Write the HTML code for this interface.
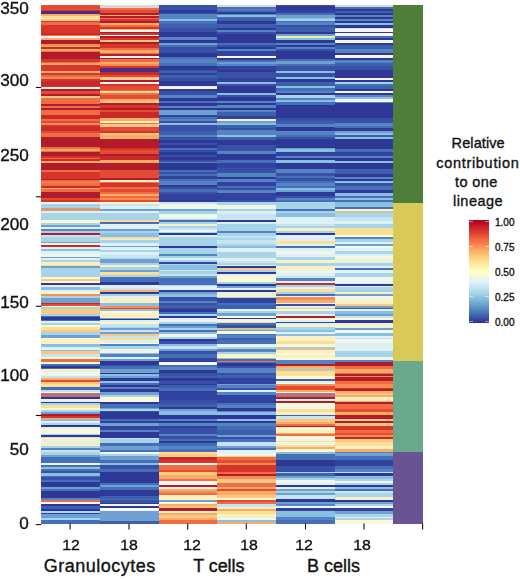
<!DOCTYPE html>
<html><head><meta charset="utf-8"><style>
html,body{margin:0;padding:0;background:#fff;}
body{width:520px;height:579px;position:relative;overflow:hidden;font-family:"Liberation Sans",sans-serif;color:#111;}
.t{position:absolute;white-space:nowrap;line-height:1;-webkit-text-stroke:0.35px #111;}
.yl{left:0;width:28.9px;text-align:right;font-size:16px;line-height:17px;transform:scaleX(1.07);transform-origin:100% 50%;}
.xl{top:537px;width:40px;text-align:center;font-size:15px;transform:scaleX(1.06);}
.gl{top:557px;width:140px;text-align:center;font-size:18px;line-height:18px;}
.lt{width:100px;text-align:center;font-size:14.5px;line-height:16px;}
.ll{left:495px;font-size:10px;line-height:12px;}
</style></head><body>
<svg width="520" height="579" viewBox="0 0 520 579" style="position:absolute;left:0;top:0" shape-rendering="crispEdges">
<defs><linearGradient id="lg" x1="0" y1="1" x2="0" y2="0">
<stop offset="0" stop-color="#2c2d8f"/>
<stop offset="0.1" stop-color="#4575b4"/>
<stop offset="0.2" stop-color="#74add1"/>
<stop offset="0.3" stop-color="#abd9e9"/>
<stop offset="0.4" stop-color="#e0f3f8"/>
<stop offset="0.5" stop-color="#ffffbf"/>
<stop offset="0.6" stop-color="#fee090"/>
<stop offset="0.7" stop-color="#fdae61"/>
<stop offset="0.8" stop-color="#f46d43"/>
<stop offset="0.9" stop-color="#d73027"/>
<stop offset="1" stop-color="#a50026"/>
</linearGradient><filter id="bl" x="-1%" y="-1%" width="102%" height="102%"><feGaussianBlur stdDeviation="0.3 0.45"/></filter></defs>
<g filter="url(#bl)"><rect x="41.20" y="5.40" width="58.70" height="0.80" fill="#e44c32"/><rect x="41.20" y="6.20" width="58.70" height="3.40" fill="#e44c32"/><rect x="41.20" y="9.60" width="58.70" height="1.70" fill="#d8352a"/><rect x="41.20" y="11.30" width="58.70" height="2.70" fill="#4b2d80"/><rect x="41.20" y="14.00" width="58.70" height="1.60" fill="#f9ac66"/><rect x="41.20" y="15.60" width="58.70" height="2.10" fill="#fcdf95"/><rect x="41.20" y="17.70" width="58.70" height="1.70" fill="#fbf0c2"/><rect x="41.20" y="19.40" width="58.70" height="1.70" fill="#fbc783"/><rect x="41.20" y="21.10" width="58.70" height="1.20" fill="#d8352a"/><rect x="41.20" y="22.30" width="58.70" height="2.30" fill="#f06c43"/><rect x="41.20" y="24.60" width="58.70" height="1.70" fill="#d8352a"/><rect x="41.20" y="26.30" width="58.70" height="6.40" fill="#d8352a"/><rect x="41.20" y="32.70" width="58.70" height="2.10" fill="#c82a2a"/><rect x="41.20" y="34.80" width="58.70" height="1.30" fill="#f06c43"/><rect x="41.20" y="36.10" width="58.70" height="2.30" fill="#f9f6f2"/><rect x="41.20" y="38.40" width="58.70" height="1.80" fill="#f9ac66"/><rect x="41.20" y="40.20" width="58.70" height="4.00" fill="#b21d2b"/><rect x="41.20" y="44.20" width="58.70" height="1.70" fill="#f68d52"/><rect x="41.20" y="45.90" width="58.70" height="1.50" fill="#f9ac66"/><rect x="41.20" y="47.40" width="58.70" height="1.40" fill="#c82a2a"/><rect x="41.20" y="48.80" width="58.70" height="1.80" fill="#f9ac66"/><rect x="41.20" y="50.60" width="58.70" height="1.70" fill="#f06c43"/><rect x="41.20" y="52.30" width="58.70" height="6.90" fill="#b21d2b"/><rect x="41.20" y="59.20" width="58.70" height="2.30" fill="#d8352a"/><rect x="41.20" y="61.50" width="58.70" height="1.70" fill="#f06c43"/><rect x="41.20" y="63.20" width="58.70" height="2.00" fill="#f9ac66"/><rect x="41.20" y="65.20" width="58.70" height="2.70" fill="#d8352a"/><rect x="41.20" y="67.90" width="58.70" height="2.10" fill="#d8352a"/><rect x="41.20" y="70.00" width="58.70" height="1.20" fill="#d8352a"/><rect x="41.20" y="71.20" width="58.70" height="2.00" fill="#f9ac66"/><rect x="41.20" y="73.20" width="58.70" height="2.00" fill="#d8352a"/><rect x="41.20" y="75.20" width="58.70" height="1.70" fill="#f06c43"/><rect x="41.20" y="76.90" width="58.70" height="2.30" fill="#f68d52"/><rect x="41.20" y="79.20" width="58.70" height="1.80" fill="#d8352a"/><rect x="41.20" y="81.00" width="58.70" height="4.60" fill="#c82a2a"/><rect x="41.20" y="85.60" width="58.70" height="1.10" fill="#d8352a"/><rect x="41.20" y="86.70" width="58.70" height="2.00" fill="#f9f6f2"/><rect x="41.20" y="88.70" width="58.70" height="1.80" fill="#b21d2b"/><rect x="41.20" y="90.50" width="58.70" height="3.70" fill="#e44c32"/><rect x="41.20" y="94.20" width="58.70" height="1.30" fill="#b21d2b"/><rect x="41.20" y="95.50" width="58.70" height="2.00" fill="#fbc783"/><rect x="41.20" y="97.50" width="58.70" height="0.90" fill="#f06c43"/><rect x="41.20" y="98.40" width="58.70" height="5.40" fill="#f06c43"/><rect x="41.20" y="103.80" width="58.70" height="2.00" fill="#b21d2b"/><rect x="41.20" y="105.80" width="58.70" height="2.10" fill="#f06c43"/><rect x="41.20" y="107.90" width="58.70" height="2.10" fill="#b21d2b"/><rect x="41.20" y="110.00" width="58.70" height="5.00" fill="#f06c43"/><rect x="41.20" y="115.00" width="58.70" height="3.70" fill="#c82a2a"/><rect x="41.20" y="118.70" width="58.70" height="2.10" fill="#f06c43"/><rect x="41.20" y="120.80" width="58.70" height="2.00" fill="#e44c32"/><rect x="41.20" y="122.80" width="58.70" height="2.50" fill="#f68d52"/><rect x="41.20" y="125.30" width="58.70" height="2.10" fill="#d8352a"/><rect x="41.20" y="127.40" width="58.70" height="3.70" fill="#c82a2a"/><rect x="41.20" y="131.10" width="58.70" height="2.10" fill="#e44c32"/><rect x="41.20" y="133.20" width="58.70" height="1.80" fill="#f06c43"/><rect x="41.20" y="135.00" width="58.70" height="2.30" fill="#f06c43"/><rect x="41.20" y="137.30" width="58.70" height="9.80" fill="#b21d2b"/><rect x="41.20" y="147.10" width="58.70" height="1.50" fill="#f06c43"/><rect x="41.20" y="148.60" width="58.70" height="2.00" fill="#f9ac66"/><rect x="41.20" y="150.60" width="58.70" height="1.70" fill="#f06c43"/><rect x="41.20" y="152.30" width="58.70" height="4.00" fill="#b21d2b"/><rect x="41.20" y="156.30" width="58.70" height="1.20" fill="#d8352a"/><rect x="41.20" y="157.50" width="58.70" height="1.70" fill="#f06c43"/><rect x="41.20" y="159.20" width="58.70" height="1.80" fill="#c82a2a"/><rect x="41.20" y="161.00" width="58.70" height="1.90" fill="#f9ac66"/><rect x="41.20" y="162.90" width="58.70" height="6.70" fill="#b21d2b"/><rect x="41.20" y="169.60" width="58.70" height="2.30" fill="#f06c43"/><rect x="41.20" y="171.90" width="58.70" height="6.90" fill="#d8352a"/><rect x="41.20" y="178.80" width="58.70" height="1.40" fill="#b21d2b"/><rect x="41.20" y="180.20" width="58.70" height="1.50" fill="#f06c43"/><rect x="41.20" y="181.70" width="58.70" height="1.70" fill="#f68d52"/><rect x="41.20" y="183.40" width="58.70" height="2.30" fill="#f06c43"/><rect x="41.20" y="185.70" width="58.70" height="1.80" fill="#c82a2a"/><rect x="41.20" y="187.50" width="58.70" height="1.90" fill="#f9ac66"/><rect x="41.20" y="189.40" width="58.70" height="2.10" fill="#f06c43"/><rect x="41.20" y="191.50" width="58.70" height="6.40" fill="#b21d2b"/><rect x="41.20" y="197.90" width="58.70" height="2.10" fill="#e44c32"/><rect x="41.20" y="200.00" width="58.70" height="2.10" fill="#d8352a"/><rect x="41.20" y="202.10" width="58.70" height="1.90" fill="#f9f6f2"/><rect x="41.20" y="204.00" width="58.70" height="4.10" fill="#a8d4ea"/><rect x="41.20" y="208.10" width="58.70" height="2.90" fill="#d49a78"/><rect x="41.20" y="211.00" width="58.70" height="1.70" fill="#dff0f6"/><rect x="41.20" y="212.70" width="58.70" height="6.90" fill="#a8d4ea"/><rect x="41.20" y="219.60" width="58.70" height="2.90" fill="#fbf8d2"/><rect x="41.20" y="222.50" width="58.70" height="2.30" fill="#a8d4ea"/><rect x="41.20" y="224.80" width="58.70" height="1.70" fill="#6f9fd2"/><rect x="41.20" y="226.50" width="58.70" height="2.30" fill="#dff0f6"/><rect x="41.20" y="228.80" width="58.70" height="2.30" fill="#5584c4"/><rect x="41.20" y="231.10" width="58.70" height="1.80" fill="#a8d4ea"/><rect x="41.20" y="232.90" width="58.70" height="2.30" fill="#b21d2b"/><rect x="41.20" y="235.20" width="58.70" height="1.80" fill="#c6e4f1"/><rect x="41.20" y="237.00" width="58.70" height="4.50" fill="#a8d4ea"/><rect x="41.20" y="241.50" width="58.70" height="1.80" fill="#6f9fd2"/><rect x="41.20" y="243.30" width="58.70" height="1.70" fill="#fbf8d2"/><rect x="41.20" y="245.00" width="58.70" height="2.30" fill="#c82a2a"/><rect x="41.20" y="247.30" width="58.70" height="1.70" fill="#dff0f6"/><rect x="41.20" y="249.00" width="58.70" height="2.30" fill="#8bbfe2"/><rect x="41.20" y="251.30" width="58.70" height="2.30" fill="#dff0f6"/><rect x="41.20" y="253.60" width="58.70" height="2.90" fill="#eef7e8"/><rect x="41.20" y="256.50" width="58.70" height="1.70" fill="#6f9fd2"/><rect x="41.20" y="258.20" width="58.70" height="1.80" fill="#dff0f6"/><rect x="41.20" y="260.00" width="58.70" height="1.70" fill="#a8d4ea"/><rect x="41.20" y="261.70" width="58.70" height="3.30" fill="#fbf0c2"/><rect x="41.20" y="265.00" width="58.70" height="1.20" fill="#fcdf95"/><rect x="41.20" y="266.20" width="58.70" height="1.70" fill="#6f9fd2"/><rect x="41.20" y="267.90" width="58.70" height="8.60" fill="#a8d4ea"/><rect x="41.20" y="276.50" width="58.70" height="2.10" fill="#fbf8d2"/><rect x="41.20" y="278.60" width="58.70" height="2.50" fill="#fbc783"/><rect x="41.20" y="281.10" width="58.70" height="1.80" fill="#fbf8d2"/><rect x="41.20" y="282.90" width="58.70" height="2.30" fill="#2e3896"/><rect x="41.20" y="285.20" width="58.70" height="1.70" fill="#dff0f6"/><rect x="41.20" y="286.90" width="58.70" height="2.90" fill="#8bbfe2"/><rect x="41.20" y="289.80" width="58.70" height="1.70" fill="#dff0f6"/><rect x="41.20" y="291.50" width="58.70" height="2.30" fill="#fbf8d2"/><rect x="41.20" y="293.80" width="58.70" height="2.10" fill="#f68d52"/><rect x="41.20" y="295.90" width="58.70" height="2.50" fill="#a8d4ea"/><rect x="41.20" y="298.40" width="58.70" height="4.10" fill="#6f9fd2"/><rect x="41.20" y="302.50" width="58.70" height="1.70" fill="#c82a2a"/><rect x="41.20" y="304.20" width="58.70" height="1.70" fill="#e44c32"/><rect x="41.20" y="305.90" width="58.70" height="1.20" fill="#fbf8d2"/><rect x="41.20" y="307.10" width="58.70" height="2.30" fill="#a8d4ea"/><rect x="41.20" y="309.40" width="58.70" height="1.70" fill="#fbc783"/><rect x="41.20" y="311.10" width="58.70" height="2.90" fill="#fbc783"/><rect x="41.20" y="314.00" width="58.70" height="1.80" fill="#a8d4ea"/><rect x="41.20" y="315.80" width="58.70" height="1.10" fill="#456fb8"/><rect x="41.20" y="316.90" width="58.70" height="2.90" fill="#2e3896"/><rect x="41.20" y="319.80" width="58.70" height="1.10" fill="#456fb8"/><rect x="41.20" y="320.90" width="58.70" height="1.80" fill="#dff0f6"/><rect x="41.20" y="322.70" width="58.70" height="2.30" fill="#a8d4ea"/><rect x="41.20" y="325.00" width="58.70" height="2.30" fill="#fbf8d2"/><rect x="41.20" y="327.30" width="58.70" height="2.70" fill="#fcdf95"/><rect x="41.20" y="330.00" width="58.70" height="1.70" fill="#fbc783"/><rect x="41.20" y="331.70" width="58.70" height="3.50" fill="#a8d4ea"/><rect x="41.20" y="335.20" width="58.70" height="2.30" fill="#6f9fd2"/><rect x="41.20" y="337.50" width="58.70" height="1.70" fill="#fbf8d2"/><rect x="41.20" y="339.20" width="58.70" height="5.20" fill="#fbf0c2"/><rect x="41.20" y="344.40" width="58.70" height="2.30" fill="#8bbfe2"/><rect x="41.20" y="346.70" width="58.70" height="2.90" fill="#dff0f6"/><rect x="41.20" y="349.60" width="58.70" height="1.70" fill="#8bbfe2"/><rect x="41.20" y="351.30" width="58.70" height="2.30" fill="#fbc783"/><rect x="41.20" y="353.60" width="58.70" height="2.90" fill="#c6e4f1"/><rect x="41.20" y="356.50" width="58.70" height="2.90" fill="#fbf8d2"/><rect x="41.20" y="359.40" width="58.70" height="2.30" fill="#f06c43"/><rect x="41.20" y="361.70" width="58.70" height="1.20" fill="#fbf8d2"/><rect x="41.20" y="362.90" width="58.70" height="1.10" fill="#f9f6f2"/><rect x="41.20" y="364.00" width="58.70" height="1.80" fill="#456fb8"/><rect x="41.20" y="365.80" width="58.70" height="2.30" fill="#2e3896"/><rect x="41.20" y="368.10" width="58.70" height="1.10" fill="#456fb8"/><rect x="41.20" y="369.20" width="58.70" height="2.30" fill="#fbf0c2"/><rect x="41.20" y="371.50" width="58.70" height="4.10" fill="#eef7e8"/><rect x="41.20" y="375.60" width="58.70" height="2.80" fill="#c6e4f1"/><rect x="41.20" y="378.40" width="58.70" height="1.80" fill="#f9ac66"/><rect x="41.20" y="380.20" width="58.70" height="1.70" fill="#e44c32"/><rect x="41.20" y="381.90" width="58.70" height="2.30" fill="#fbc783"/><rect x="41.20" y="384.20" width="58.70" height="2.30" fill="#fcdf95"/><rect x="41.20" y="386.50" width="58.70" height="3.50" fill="#456fb8"/><rect x="41.20" y="390.00" width="58.70" height="1.70" fill="#c6e4f1"/><rect x="41.20" y="391.70" width="58.70" height="1.20" fill="#f9f6f2"/><rect x="41.20" y="392.90" width="58.70" height="2.10" fill="#b8707a"/><rect x="41.20" y="395.00" width="58.70" height="2.30" fill="#b8707a"/><rect x="41.20" y="397.30" width="58.70" height="1.20" fill="#2e3896"/><rect x="41.20" y="398.50" width="58.70" height="1.70" fill="#f9f6f2"/><rect x="41.20" y="400.20" width="58.70" height="1.70" fill="#dff0f6"/><rect x="41.20" y="401.90" width="58.70" height="1.40" fill="#2e3896"/><rect x="41.20" y="403.30" width="58.70" height="1.50" fill="#a8d4ea"/><rect x="41.20" y="404.80" width="58.70" height="3.50" fill="#fcdf95"/><rect x="41.20" y="408.30" width="58.70" height="1.70" fill="#fbf8d2"/><rect x="41.20" y="410.00" width="58.70" height="2.30" fill="#a8d4ea"/><rect x="41.20" y="412.30" width="58.70" height="1.70" fill="#6f9fd2"/><rect x="41.20" y="414.00" width="58.70" height="1.80" fill="#b21d2b"/><rect x="41.20" y="415.80" width="58.70" height="1.70" fill="#d8352a"/><rect x="41.20" y="417.50" width="58.70" height="1.70" fill="#f9ac66"/><rect x="41.20" y="419.20" width="58.70" height="1.70" fill="#8bbfe2"/><rect x="41.20" y="420.90" width="58.70" height="1.80" fill="#dff0f6"/><rect x="41.20" y="422.70" width="58.70" height="2.50" fill="#a8d4ea"/><rect x="41.20" y="425.20" width="58.70" height="2.10" fill="#2e3896"/><rect x="41.20" y="427.30" width="58.70" height="1.70" fill="#dff0f6"/><rect x="41.20" y="429.00" width="58.70" height="4.60" fill="#fbf8d2"/><rect x="41.20" y="433.60" width="58.70" height="1.20" fill="#a8d4ea"/><rect x="41.20" y="434.80" width="58.70" height="1.70" fill="#2e3896"/><rect x="41.20" y="436.50" width="58.70" height="1.80" fill="#c6e4f1"/><rect x="41.20" y="438.30" width="58.70" height="2.30" fill="#fbf0c2"/><rect x="41.20" y="440.60" width="58.70" height="2.30" fill="#dff0f6"/><rect x="41.20" y="442.90" width="58.70" height="2.90" fill="#fbf0c2"/><rect x="41.20" y="445.80" width="58.70" height="2.30" fill="#a8d4ea"/><rect x="41.20" y="448.10" width="58.70" height="1.70" fill="#5584c4"/><rect x="41.20" y="449.80" width="58.70" height="2.30" fill="#c6e4f1"/><rect x="41.20" y="452.10" width="58.70" height="2.90" fill="#a8d4ea"/><rect x="41.20" y="455.00" width="58.70" height="2.30" fill="#6f9fd2"/><rect x="41.20" y="457.30" width="58.70" height="2.70" fill="#456fb8"/><rect x="41.20" y="460.00" width="58.70" height="2.90" fill="#456fb8"/><rect x="41.20" y="462.90" width="58.70" height="2.30" fill="#eef7e8"/><rect x="41.20" y="465.20" width="58.70" height="1.70" fill="#456fb8"/><rect x="41.20" y="466.90" width="58.70" height="2.30" fill="#8bbfe2"/><rect x="41.20" y="469.20" width="58.70" height="1.70" fill="#456fb8"/><rect x="41.20" y="470.90" width="58.70" height="2.40" fill="#3851a6"/><rect x="41.20" y="473.30" width="58.70" height="2.30" fill="#8bbfe2"/><rect x="41.20" y="475.60" width="58.70" height="1.70" fill="#456fb8"/><rect x="41.20" y="477.30" width="58.70" height="2.90" fill="#3851a6"/><rect x="41.20" y="480.20" width="58.70" height="1.70" fill="#456fb8"/><rect x="41.20" y="481.90" width="58.70" height="4.60" fill="#2e3896"/><rect x="41.20" y="486.50" width="58.70" height="2.30" fill="#6f9fd2"/><rect x="41.20" y="488.80" width="58.70" height="2.30" fill="#456fb8"/><rect x="41.20" y="491.10" width="58.70" height="6.40" fill="#2e3896"/><rect x="41.20" y="497.50" width="58.70" height="2.30" fill="#5584c4"/><rect x="41.20" y="499.80" width="58.70" height="2.00" fill="#f06c43"/><rect x="41.20" y="501.80" width="58.70" height="2.00" fill="#f9f6f2"/><rect x="41.20" y="503.80" width="58.70" height="1.80" fill="#2e3896"/><rect x="41.20" y="505.60" width="58.70" height="3.40" fill="#3d60ae"/><rect x="41.20" y="509.00" width="58.70" height="1.80" fill="#2e3896"/><rect x="41.20" y="510.80" width="58.70" height="1.70" fill="#a8d4ea"/><rect x="41.20" y="512.50" width="58.70" height="1.70" fill="#33439f"/><rect x="41.20" y="514.20" width="58.70" height="3.50" fill="#6f9fd2"/><rect x="41.20" y="517.70" width="58.70" height="2.30" fill="#a8d4ea"/><rect x="41.20" y="520.00" width="58.70" height="3.50" fill="#456fb8"/><rect x="99.90" y="5.40" width="58.70" height="2.10" fill="#d9d9d9"/><rect x="99.90" y="7.50" width="58.70" height="2.10" fill="#f06c43"/><rect x="99.90" y="9.60" width="58.70" height="3.50" fill="#e44c32"/><rect x="99.90" y="13.10" width="58.70" height="1.40" fill="#b21d2b"/><rect x="99.90" y="14.50" width="58.70" height="1.50" fill="#f9ac66"/><rect x="99.90" y="16.00" width="58.70" height="1.50" fill="#b21d2b"/><rect x="99.90" y="17.50" width="58.70" height="1.90" fill="#f06c43"/><rect x="99.90" y="19.40" width="58.70" height="1.70" fill="#d8352a"/><rect x="99.90" y="21.10" width="58.70" height="1.80" fill="#b21d2b"/><rect x="99.90" y="22.90" width="58.70" height="1.70" fill="#f9ac66"/><rect x="99.90" y="24.60" width="58.70" height="2.30" fill="#f06c43"/><rect x="99.90" y="26.90" width="58.70" height="1.70" fill="#d8352a"/><rect x="99.90" y="28.60" width="58.70" height="1.20" fill="#f9ac66"/><rect x="99.90" y="29.80" width="58.70" height="1.70" fill="#f9f6f2"/><rect x="99.90" y="31.50" width="58.70" height="1.80" fill="#b21d2b"/><rect x="99.90" y="33.30" width="58.70" height="1.50" fill="#d8352a"/><rect x="99.90" y="34.80" width="58.70" height="1.60" fill="#f9f6f2"/><rect x="99.90" y="36.40" width="58.70" height="2.00" fill="#b21d2b"/><rect x="99.90" y="38.40" width="58.70" height="1.80" fill="#d8352a"/><rect x="99.90" y="40.20" width="58.70" height="1.70" fill="#fbc783"/><rect x="99.90" y="41.90" width="58.70" height="1.70" fill="#b21d2b"/><rect x="99.90" y="43.60" width="58.70" height="4.70" fill="#d8352a"/><rect x="99.90" y="48.30" width="58.70" height="1.90" fill="#f06c43"/><rect x="99.90" y="50.20" width="58.70" height="2.30" fill="#f9ac66"/><rect x="99.90" y="52.50" width="58.70" height="1.50" fill="#f06c43"/><rect x="99.90" y="54.00" width="58.70" height="1.80" fill="#b21d2b"/><rect x="99.90" y="55.80" width="58.70" height="2.00" fill="#f9f6f2"/><rect x="99.90" y="57.80" width="58.70" height="1.40" fill="#b21d2b"/><rect x="99.90" y="59.20" width="58.70" height="2.30" fill="#f06c43"/><rect x="99.90" y="61.50" width="58.70" height="2.30" fill="#f9ac66"/><rect x="99.90" y="63.80" width="58.70" height="2.30" fill="#f68d52"/><rect x="99.90" y="66.10" width="58.70" height="1.80" fill="#d8352a"/><rect x="99.90" y="67.90" width="58.70" height="2.10" fill="#4b2d80"/><rect x="99.90" y="70.00" width="58.70" height="1.70" fill="#4b2d80"/><rect x="99.90" y="71.70" width="58.70" height="2.90" fill="#c82a2a"/><rect x="99.90" y="74.60" width="58.70" height="2.30" fill="#e44c32"/><rect x="99.90" y="76.90" width="58.70" height="2.90" fill="#fbc783"/><rect x="99.90" y="79.80" width="58.70" height="1.70" fill="#b21d2b"/><rect x="99.90" y="81.50" width="58.70" height="2.30" fill="#f9f6f2"/><rect x="99.90" y="83.80" width="58.70" height="2.10" fill="#d8352a"/><rect x="99.90" y="85.90" width="58.70" height="3.70" fill="#e44c32"/><rect x="99.90" y="89.60" width="58.70" height="1.20" fill="#f06c43"/><rect x="99.90" y="90.80" width="58.70" height="2.30" fill="#fcdf95"/><rect x="99.90" y="93.10" width="58.70" height="2.30" fill="#f06c43"/><rect x="99.90" y="95.40" width="58.70" height="3.40" fill="#e44c32"/><rect x="99.90" y="98.80" width="58.70" height="1.80" fill="#f9ac66"/><rect x="99.90" y="100.60" width="58.70" height="2.80" fill="#fbc783"/><rect x="99.90" y="103.40" width="58.70" height="1.80" fill="#b21d2b"/><rect x="99.90" y="105.20" width="58.70" height="2.30" fill="#d8352a"/><rect x="99.90" y="107.50" width="58.70" height="2.30" fill="#b21d2b"/><rect x="99.90" y="109.80" width="58.70" height="1.70" fill="#e44c32"/><rect x="99.90" y="111.50" width="58.70" height="6.90" fill="#c82a2a"/><rect x="99.90" y="118.40" width="58.70" height="2.30" fill="#f9ac66"/><rect x="99.90" y="120.70" width="58.70" height="1.80" fill="#fbf0c2"/><rect x="99.90" y="122.50" width="58.70" height="1.50" fill="#f06c43"/><rect x="99.90" y="124.00" width="58.70" height="2.50" fill="#fbc783"/><rect x="99.90" y="126.50" width="58.70" height="4.10" fill="#e44c32"/><rect x="99.90" y="130.60" width="58.70" height="2.30" fill="#d8352a"/><rect x="99.90" y="132.90" width="58.70" height="2.10" fill="#fbc783"/><rect x="99.90" y="135.00" width="58.70" height="3.50" fill="#f9ac66"/><rect x="99.90" y="138.50" width="58.70" height="9.20" fill="#b21d2b"/><rect x="99.90" y="147.70" width="58.70" height="2.30" fill="#d8352a"/><rect x="99.90" y="150.00" width="58.70" height="3.50" fill="#e44c32"/><rect x="99.90" y="153.50" width="58.70" height="2.30" fill="#b21d2b"/><rect x="99.90" y="155.80" width="58.70" height="4.60" fill="#c82a2a"/><rect x="99.90" y="160.40" width="58.70" height="2.90" fill="#f9ac66"/><rect x="99.90" y="163.30" width="58.70" height="6.30" fill="#b21d2b"/><rect x="99.90" y="169.60" width="58.70" height="3.50" fill="#e44c32"/><rect x="99.90" y="173.10" width="58.70" height="5.20" fill="#e44c32"/><rect x="99.90" y="178.30" width="58.70" height="1.70" fill="#b21d2b"/><rect x="99.90" y="180.00" width="58.70" height="1.70" fill="#fbf0c2"/><rect x="99.90" y="181.70" width="58.70" height="1.70" fill="#f06c43"/><rect x="99.90" y="183.40" width="58.70" height="3.50" fill="#d8352a"/><rect x="99.90" y="186.90" width="58.70" height="1.70" fill="#f06c43"/><rect x="99.90" y="188.60" width="58.70" height="2.90" fill="#e44c32"/><rect x="99.90" y="191.50" width="58.70" height="2.30" fill="#f06c43"/><rect x="99.90" y="193.80" width="58.70" height="1.80" fill="#f9ac66"/><rect x="99.90" y="195.60" width="58.70" height="2.30" fill="#f06c43"/><rect x="99.90" y="197.90" width="58.70" height="2.10" fill="#f68d52"/><rect x="99.90" y="200.00" width="58.70" height="2.10" fill="#e44c32"/><rect x="99.90" y="202.10" width="58.70" height="1.90" fill="#fbf8d2"/><rect x="99.90" y="204.00" width="58.70" height="2.30" fill="#c6e4f1"/><rect x="99.90" y="206.30" width="58.70" height="2.40" fill="#dff0f6"/><rect x="99.90" y="208.70" width="58.70" height="1.90" fill="#6f9fd2"/><rect x="99.90" y="210.60" width="58.70" height="2.70" fill="#dff0f6"/><rect x="99.90" y="213.30" width="58.70" height="6.30" fill="#a8d4ea"/><rect x="99.90" y="219.60" width="58.70" height="2.30" fill="#fcdf95"/><rect x="99.90" y="221.90" width="58.70" height="1.70" fill="#456fb8"/><rect x="99.90" y="223.60" width="58.70" height="1.80" fill="#dff0f6"/><rect x="99.90" y="225.40" width="58.70" height="3.40" fill="#dff0f6"/><rect x="99.90" y="228.80" width="58.70" height="1.80" fill="#6f9fd2"/><rect x="99.90" y="230.60" width="58.70" height="2.30" fill="#a8d4ea"/><rect x="99.90" y="232.90" width="58.70" height="4.00" fill="#8bbfe2"/><rect x="99.90" y="236.90" width="58.70" height="1.70" fill="#fcdf95"/><rect x="99.90" y="238.60" width="58.70" height="1.80" fill="#dff0f6"/><rect x="99.90" y="240.40" width="58.70" height="2.90" fill="#a8d4ea"/><rect x="99.90" y="243.30" width="58.70" height="2.30" fill="#dff0f6"/><rect x="99.90" y="245.60" width="58.70" height="1.70" fill="#6f9fd2"/><rect x="99.90" y="247.30" width="58.70" height="2.30" fill="#dff0f6"/><rect x="99.90" y="249.60" width="58.70" height="2.30" fill="#a8d4ea"/><rect x="99.90" y="251.90" width="58.70" height="2.90" fill="#dff0f6"/><rect x="99.90" y="254.80" width="58.70" height="2.90" fill="#c6e4f1"/><rect x="99.90" y="257.70" width="58.70" height="1.70" fill="#a8d4ea"/><rect x="99.90" y="259.40" width="58.70" height="4.00" fill="#6f9fd2"/><rect x="99.90" y="263.40" width="58.70" height="1.60" fill="#a8d4ea"/><rect x="99.90" y="265.00" width="58.70" height="2.30" fill="#fbf0c2"/><rect x="99.90" y="267.30" width="58.70" height="2.30" fill="#a8d4ea"/><rect x="99.90" y="269.60" width="58.70" height="2.30" fill="#6f9fd2"/><rect x="99.90" y="271.90" width="58.70" height="2.90" fill="#fcdf95"/><rect x="99.90" y="274.80" width="58.70" height="2.30" fill="#a8d4ea"/><rect x="99.90" y="277.10" width="58.70" height="5.20" fill="#456fb8"/><rect x="99.90" y="282.30" width="58.70" height="2.90" fill="#2e3896"/><rect x="99.90" y="285.20" width="58.70" height="2.30" fill="#dff0f6"/><rect x="99.90" y="287.50" width="58.70" height="2.30" fill="#c6e4f1"/><rect x="99.90" y="289.80" width="58.70" height="2.30" fill="#f9ac66"/><rect x="99.90" y="292.10" width="58.70" height="1.70" fill="#2e3896"/><rect x="99.90" y="293.80" width="58.70" height="2.30" fill="#a8d4ea"/><rect x="99.90" y="296.10" width="58.70" height="1.80" fill="#dff0f6"/><rect x="99.90" y="297.90" width="58.70" height="5.20" fill="#fbf0c2"/><rect x="99.90" y="303.10" width="58.70" height="2.80" fill="#8bbfe2"/><rect x="99.90" y="305.90" width="58.70" height="1.80" fill="#f68d52"/><rect x="99.90" y="307.70" width="58.70" height="1.70" fill="#e44c32"/><rect x="99.90" y="309.40" width="58.70" height="1.70" fill="#8bbfe2"/><rect x="99.90" y="311.10" width="58.70" height="2.30" fill="#fbf8d2"/><rect x="99.90" y="313.40" width="58.70" height="4.10" fill="#fbf0c2"/><rect x="99.90" y="317.50" width="58.70" height="1.10" fill="#6f9fd2"/><rect x="99.90" y="318.60" width="58.70" height="1.50" fill="#2e3896"/><rect x="99.90" y="320.10" width="58.70" height="2.00" fill="#dff0f6"/><rect x="99.90" y="322.10" width="58.70" height="2.30" fill="#fbf8d2"/><rect x="99.90" y="324.40" width="58.70" height="2.30" fill="#c6e4f1"/><rect x="99.90" y="326.70" width="58.70" height="1.70" fill="#a8d4ea"/><rect x="99.90" y="328.40" width="58.70" height="1.60" fill="#6f9fd2"/><rect x="99.90" y="330.00" width="58.70" height="1.70" fill="#c6e4f1"/><rect x="99.90" y="331.70" width="58.70" height="1.80" fill="#6f9fd2"/><rect x="99.90" y="333.50" width="58.70" height="2.30" fill="#fbc783"/><rect x="99.90" y="335.80" width="58.70" height="1.70" fill="#c6e4f1"/><rect x="99.90" y="337.50" width="58.70" height="2.30" fill="#fcdf95"/><rect x="99.90" y="339.80" width="58.70" height="2.90" fill="#dff0f6"/><rect x="99.90" y="342.70" width="58.70" height="1.70" fill="#fbf8d2"/><rect x="99.90" y="344.40" width="58.70" height="1.70" fill="#5584c4"/><rect x="99.90" y="346.10" width="58.70" height="2.90" fill="#a8d4ea"/><rect x="99.90" y="349.00" width="58.70" height="3.50" fill="#eef7e8"/><rect x="99.90" y="352.50" width="58.70" height="1.70" fill="#8bbfe2"/><rect x="99.90" y="354.20" width="58.70" height="2.90" fill="#5584c4"/><rect x="99.90" y="357.10" width="58.70" height="1.70" fill="#dff0f6"/><rect x="99.90" y="358.80" width="58.70" height="1.80" fill="#6f9fd2"/><rect x="99.90" y="360.60" width="58.70" height="4.00" fill="#2e3896"/><rect x="99.90" y="364.60" width="58.70" height="1.70" fill="#3851a6"/><rect x="99.90" y="366.30" width="58.70" height="2.30" fill="#456fb8"/><rect x="99.90" y="368.60" width="58.70" height="4.10" fill="#6f9fd2"/><rect x="99.90" y="372.70" width="58.70" height="1.70" fill="#2e3896"/><rect x="99.90" y="374.40" width="58.70" height="1.70" fill="#8bbfe2"/><rect x="99.90" y="376.10" width="58.70" height="1.80" fill="#6f9fd2"/><rect x="99.90" y="377.90" width="58.70" height="3.40" fill="#2e3896"/><rect x="99.90" y="381.30" width="58.70" height="1.80" fill="#8bbfe2"/><rect x="99.90" y="383.10" width="58.70" height="1.70" fill="#456fb8"/><rect x="99.90" y="384.80" width="58.70" height="2.30" fill="#2e3896"/><rect x="99.90" y="387.10" width="58.70" height="1.70" fill="#5584c4"/><rect x="99.90" y="388.80" width="58.70" height="3.50" fill="#2e3896"/><rect x="99.90" y="392.30" width="58.70" height="2.70" fill="#6f9fd2"/><rect x="99.90" y="395.00" width="58.70" height="1.70" fill="#a8d4ea"/><rect x="99.90" y="396.70" width="58.70" height="3.50" fill="#fbf8d2"/><rect x="99.90" y="400.20" width="58.70" height="1.70" fill="#f9f6f2"/><rect x="99.90" y="401.90" width="58.70" height="1.80" fill="#2e3896"/><rect x="99.90" y="403.70" width="58.70" height="4.00" fill="#456fb8"/><rect x="99.90" y="407.70" width="58.70" height="1.70" fill="#6f9fd2"/><rect x="99.90" y="409.40" width="58.70" height="1.20" fill="#a8d4ea"/><rect x="99.90" y="410.60" width="58.70" height="1.70" fill="#3851a6"/><rect x="99.90" y="412.30" width="58.70" height="6.30" fill="#2e3896"/><rect x="99.90" y="418.60" width="58.70" height="2.40" fill="#456fb8"/><rect x="99.90" y="421.00" width="58.70" height="2.30" fill="#33439f"/><rect x="99.90" y="423.30" width="58.70" height="2.30" fill="#6f9fd2"/><rect x="99.90" y="425.60" width="58.70" height="4.00" fill="#33439f"/><rect x="99.90" y="429.60" width="58.70" height="2.30" fill="#5584c4"/><rect x="99.90" y="431.90" width="58.70" height="5.80" fill="#2e3896"/><rect x="99.90" y="437.70" width="58.70" height="1.70" fill="#c6e4f1"/><rect x="99.90" y="439.40" width="58.70" height="3.50" fill="#a8d4ea"/><rect x="99.90" y="442.90" width="58.70" height="2.90" fill="#456fb8"/><rect x="99.90" y="445.80" width="58.70" height="1.70" fill="#6f9fd2"/><rect x="99.90" y="447.50" width="58.70" height="2.30" fill="#6f9fd2"/><rect x="99.90" y="449.80" width="58.70" height="1.70" fill="#456fb8"/><rect x="99.90" y="451.50" width="58.70" height="2.30" fill="#eef7e8"/><rect x="99.90" y="453.80" width="58.70" height="2.30" fill="#a8d4ea"/><rect x="99.90" y="456.10" width="58.70" height="3.90" fill="#6f9fd2"/><rect x="99.90" y="460.00" width="58.70" height="2.90" fill="#456fb8"/><rect x="99.90" y="462.90" width="58.70" height="2.30" fill="#8bbfe2"/><rect x="99.90" y="465.20" width="58.70" height="4.00" fill="#3851a6"/><rect x="99.90" y="469.20" width="58.70" height="2.30" fill="#456fb8"/><rect x="99.90" y="471.50" width="58.70" height="11.60" fill="#2e3896"/><rect x="99.90" y="483.10" width="58.70" height="1.70" fill="#456fb8"/><rect x="99.90" y="484.80" width="58.70" height="2.30" fill="#6f9fd2"/><rect x="99.90" y="487.10" width="58.70" height="2.90" fill="#456fb8"/><rect x="99.90" y="490.00" width="58.70" height="5.80" fill="#2e3896"/><rect x="99.90" y="495.80" width="58.70" height="2.80" fill="#3d60ae"/><rect x="99.90" y="498.60" width="58.70" height="1.80" fill="#456fb8"/><rect x="99.90" y="500.40" width="58.70" height="2.90" fill="#3851a6"/><rect x="99.90" y="503.30" width="58.70" height="1.10" fill="#2e3896"/><rect x="99.90" y="504.40" width="58.70" height="1.70" fill="#f9f6f2"/><rect x="99.90" y="506.10" width="58.70" height="2.30" fill="#2e3896"/><rect x="99.90" y="508.40" width="58.70" height="2.30" fill="#f9f6f2"/><rect x="99.90" y="510.70" width="58.70" height="9.90" fill="#6f9fd2"/><rect x="99.90" y="520.60" width="58.70" height="2.90" fill="#3d60ae"/><rect x="158.60" y="5.40" width="58.70" height="4.20" fill="#3851a6"/><rect x="158.60" y="9.60" width="58.70" height="3.50" fill="#2e3896"/><rect x="158.60" y="13.10" width="58.70" height="1.10" fill="#3851a6"/><rect x="158.60" y="14.20" width="58.70" height="4.60" fill="#5584c4"/><rect x="158.60" y="18.80" width="58.70" height="1.80" fill="#8bbfe2"/><rect x="158.60" y="20.60" width="58.70" height="3.40" fill="#456fb8"/><rect x="158.60" y="24.00" width="58.70" height="3.50" fill="#3d60ae"/><rect x="158.60" y="27.50" width="58.70" height="4.60" fill="#3851a6"/><rect x="158.60" y="32.10" width="58.70" height="5.20" fill="#2e3896"/><rect x="158.60" y="37.30" width="58.70" height="2.30" fill="#5584c4"/><rect x="158.60" y="39.60" width="58.70" height="3.40" fill="#2e3896"/><rect x="158.60" y="43.00" width="58.70" height="1.80" fill="#6f9fd2"/><rect x="158.60" y="44.80" width="58.70" height="2.30" fill="#456fb8"/><rect x="158.60" y="47.10" width="58.70" height="2.90" fill="#3851a6"/><rect x="158.60" y="50.00" width="58.70" height="3.40" fill="#3851a6"/><rect x="158.60" y="53.40" width="58.70" height="3.50" fill="#2e3896"/><rect x="158.60" y="56.90" width="58.70" height="2.30" fill="#456fb8"/><rect x="158.60" y="59.20" width="58.70" height="3.50" fill="#5584c4"/><rect x="158.60" y="62.70" width="58.70" height="3.40" fill="#456fb8"/><rect x="158.60" y="66.10" width="58.70" height="3.90" fill="#2e3896"/><rect x="158.60" y="70.00" width="58.70" height="1.20" fill="#3851a6"/><rect x="158.60" y="71.20" width="58.70" height="1.70" fill="#3d60ae"/><rect x="158.60" y="72.90" width="58.70" height="2.30" fill="#33439f"/><rect x="158.60" y="75.20" width="58.70" height="2.30" fill="#3d60ae"/><rect x="158.60" y="77.50" width="58.70" height="3.50" fill="#3851a6"/><rect x="158.60" y="81.00" width="58.70" height="4.60" fill="#2e3896"/><rect x="158.60" y="85.60" width="58.70" height="1.10" fill="#dff0f6"/><rect x="158.60" y="86.70" width="58.70" height="1.80" fill="#f9f6f2"/><rect x="158.60" y="88.50" width="58.70" height="2.30" fill="#2e3896"/><rect x="158.60" y="90.80" width="58.70" height="4.60" fill="#3851a6"/><rect x="158.60" y="95.40" width="58.70" height="2.30" fill="#5584c4"/><rect x="158.60" y="97.70" width="58.70" height="3.40" fill="#2e3896"/><rect x="158.60" y="101.10" width="58.70" height="2.30" fill="#456fb8"/><rect x="158.60" y="103.40" width="58.70" height="2.40" fill="#2e3896"/><rect x="158.60" y="105.80" width="58.70" height="2.30" fill="#5584c4"/><rect x="158.60" y="108.10" width="58.70" height="1.70" fill="#2e3896"/><rect x="158.60" y="109.80" width="58.70" height="5.20" fill="#6f9fd2"/><rect x="158.60" y="115.00" width="58.70" height="2.30" fill="#33439f"/><rect x="158.60" y="117.30" width="58.70" height="1.70" fill="#456fb8"/><rect x="158.60" y="119.00" width="58.70" height="2.30" fill="#5584c4"/><rect x="158.60" y="121.30" width="58.70" height="2.00" fill="#3851a6"/><rect x="158.60" y="123.30" width="58.70" height="2.10" fill="#8bbfe2"/><rect x="158.60" y="125.40" width="58.70" height="5.70" fill="#3851a6"/><rect x="158.60" y="131.10" width="58.70" height="3.90" fill="#3d60ae"/><rect x="158.60" y="135.00" width="58.70" height="1.70" fill="#5584c4"/><rect x="158.60" y="136.70" width="58.70" height="3.50" fill="#3851a6"/><rect x="158.60" y="140.20" width="58.70" height="2.90" fill="#2e3896"/><rect x="158.60" y="143.10" width="58.70" height="2.30" fill="#3851a6"/><rect x="158.60" y="145.40" width="58.70" height="2.30" fill="#2e3896"/><rect x="158.60" y="147.70" width="58.70" height="2.30" fill="#456fb8"/><rect x="158.60" y="150.00" width="58.70" height="2.30" fill="#3851a6"/><rect x="158.60" y="152.30" width="58.70" height="2.30" fill="#2e3896"/><rect x="158.60" y="154.60" width="58.70" height="2.30" fill="#3851a6"/><rect x="158.60" y="156.90" width="58.70" height="2.90" fill="#2e3896"/><rect x="158.60" y="159.80" width="58.70" height="1.70" fill="#3851a6"/><rect x="158.60" y="161.50" width="58.70" height="1.80" fill="#5584c4"/><rect x="158.60" y="163.30" width="58.70" height="6.30" fill="#2e3896"/><rect x="158.60" y="169.60" width="58.70" height="2.30" fill="#456fb8"/><rect x="158.60" y="171.90" width="58.70" height="1.70" fill="#3851a6"/><rect x="158.60" y="173.60" width="58.70" height="2.30" fill="#456fb8"/><rect x="158.60" y="175.90" width="58.70" height="3.50" fill="#33439f"/><rect x="158.60" y="179.40" width="58.70" height="1.70" fill="#456fb8"/><rect x="158.60" y="181.10" width="58.70" height="3.50" fill="#5584c4"/><rect x="158.60" y="184.60" width="58.70" height="2.30" fill="#2e3896"/><rect x="158.60" y="186.90" width="58.70" height="2.30" fill="#3851a6"/><rect x="158.60" y="189.20" width="58.70" height="2.30" fill="#456fb8"/><rect x="158.60" y="191.50" width="58.70" height="2.30" fill="#3851a6"/><rect x="158.60" y="193.80" width="58.70" height="6.20" fill="#33439f"/><rect x="158.60" y="200.00" width="58.70" height="2.10" fill="#2e3896"/><rect x="158.60" y="202.10" width="58.70" height="1.90" fill="#c6e4f1"/><rect x="158.60" y="204.00" width="58.70" height="4.70" fill="#eef7e8"/><rect x="158.60" y="208.70" width="58.70" height="2.30" fill="#6f9fd2"/><rect x="158.60" y="211.00" width="58.70" height="2.80" fill="#a8d4ea"/><rect x="158.60" y="213.80" width="58.70" height="4.70" fill="#eef7e8"/><rect x="158.60" y="218.50" width="58.70" height="1.70" fill="#a8d4ea"/><rect x="158.60" y="220.20" width="58.70" height="1.70" fill="#456fb8"/><rect x="158.60" y="221.90" width="58.70" height="2.30" fill="#a8d4ea"/><rect x="158.60" y="224.20" width="58.70" height="1.70" fill="#fbf0c2"/><rect x="158.60" y="225.90" width="58.70" height="2.40" fill="#a8d4ea"/><rect x="158.60" y="228.30" width="58.70" height="1.70" fill="#c6e4f1"/><rect x="158.60" y="230.00" width="58.70" height="2.30" fill="#eef7e8"/><rect x="158.60" y="232.30" width="58.70" height="1.10" fill="#a8d4ea"/><rect x="158.60" y="233.40" width="58.70" height="1.80" fill="#2e3896"/><rect x="158.60" y="235.20" width="58.70" height="1.70" fill="#dff0f6"/><rect x="158.60" y="236.90" width="58.70" height="2.90" fill="#a8d4ea"/><rect x="158.60" y="239.80" width="58.70" height="5.80" fill="#a8d4ea"/><rect x="158.60" y="245.60" width="58.70" height="2.30" fill="#2e3896"/><rect x="158.60" y="247.90" width="58.70" height="1.70" fill="#a8d4ea"/><rect x="158.60" y="249.60" width="58.70" height="4.60" fill="#a8d4ea"/><rect x="158.60" y="254.20" width="58.70" height="1.70" fill="#5584c4"/><rect x="158.60" y="255.90" width="58.70" height="1.80" fill="#a8d4ea"/><rect x="158.60" y="257.70" width="58.70" height="2.30" fill="#dff0f6"/><rect x="158.60" y="260.00" width="58.70" height="1.70" fill="#a8d4ea"/><rect x="158.60" y="261.70" width="58.70" height="2.30" fill="#33439f"/><rect x="158.60" y="264.00" width="58.70" height="1.00" fill="#a8d4ea"/><rect x="158.60" y="265.00" width="58.70" height="4.60" fill="#8bbfe2"/><rect x="158.60" y="269.60" width="58.70" height="1.70" fill="#c6e4f1"/><rect x="158.60" y="271.30" width="58.70" height="2.40" fill="#a8d4ea"/><rect x="158.60" y="273.70" width="58.70" height="2.30" fill="#c6e4f1"/><rect x="158.60" y="276.00" width="58.70" height="2.30" fill="#6f9fd2"/><rect x="158.60" y="278.30" width="58.70" height="1.70" fill="#456fb8"/><rect x="158.60" y="280.00" width="58.70" height="4.60" fill="#456fb8"/><rect x="158.60" y="284.60" width="58.70" height="1.20" fill="#a8d4ea"/><rect x="158.60" y="285.80" width="58.70" height="4.00" fill="#dff0f6"/><rect x="158.60" y="289.80" width="58.70" height="2.30" fill="#2e3896"/><rect x="158.60" y="292.10" width="58.70" height="1.70" fill="#6f9fd2"/><rect x="158.60" y="293.80" width="58.70" height="2.90" fill="#8bbfe2"/><rect x="158.60" y="296.70" width="58.70" height="4.10" fill="#3851a6"/><rect x="158.60" y="300.80" width="58.70" height="2.30" fill="#5584c4"/><rect x="158.60" y="303.10" width="58.70" height="2.30" fill="#3851a6"/><rect x="158.60" y="305.40" width="58.70" height="2.30" fill="#3d60ae"/><rect x="158.60" y="307.70" width="58.70" height="1.70" fill="#3851a6"/><rect x="158.60" y="309.40" width="58.70" height="2.90" fill="#2e3896"/><rect x="158.60" y="312.30" width="58.70" height="1.70" fill="#456fb8"/><rect x="158.60" y="314.00" width="58.70" height="2.30" fill="#a8d4ea"/><rect x="158.60" y="316.30" width="58.70" height="1.80" fill="#2e3896"/><rect x="158.60" y="318.10" width="58.70" height="1.70" fill="#dff0f6"/><rect x="158.60" y="319.80" width="58.70" height="2.30" fill="#eef7e8"/><rect x="158.60" y="322.10" width="58.70" height="1.70" fill="#a8d4ea"/><rect x="158.60" y="323.80" width="58.70" height="2.30" fill="#456fb8"/><rect x="158.60" y="326.10" width="58.70" height="1.80" fill="#6f9fd2"/><rect x="158.60" y="327.90" width="58.70" height="2.10" fill="#a8d4ea"/><rect x="158.60" y="330.00" width="58.70" height="1.70" fill="#456fb8"/><rect x="158.60" y="331.70" width="58.70" height="2.30" fill="#8bbfe2"/><rect x="158.60" y="334.00" width="58.70" height="2.90" fill="#eef7e8"/><rect x="158.60" y="336.90" width="58.70" height="1.80" fill="#a8d4ea"/><rect x="158.60" y="338.70" width="58.70" height="2.30" fill="#2e3896"/><rect x="158.60" y="341.00" width="58.70" height="2.80" fill="#3851a6"/><rect x="158.60" y="343.80" width="58.70" height="1.80" fill="#8bbfe2"/><rect x="158.60" y="345.60" width="58.70" height="3.40" fill="#c6e4f1"/><rect x="158.60" y="349.00" width="58.70" height="2.30" fill="#6f9fd2"/><rect x="158.60" y="351.30" width="58.70" height="2.90" fill="#3851a6"/><rect x="158.60" y="354.20" width="58.70" height="3.50" fill="#456fb8"/><rect x="158.60" y="357.70" width="58.70" height="3.40" fill="#33439f"/><rect x="158.60" y="361.10" width="58.70" height="1.20" fill="#2e3896"/><rect x="158.60" y="362.30" width="58.70" height="2.30" fill="#f9f6f2"/><rect x="158.60" y="364.60" width="58.70" height="2.30" fill="#456fb8"/><rect x="158.60" y="366.90" width="58.70" height="3.50" fill="#5584c4"/><rect x="158.60" y="370.40" width="58.70" height="2.30" fill="#2e3896"/><rect x="158.60" y="372.70" width="58.70" height="2.90" fill="#3851a6"/><rect x="158.60" y="375.60" width="58.70" height="2.80" fill="#3d60ae"/><rect x="158.60" y="378.40" width="58.70" height="2.30" fill="#2e3896"/><rect x="158.60" y="380.70" width="58.70" height="2.90" fill="#3851a6"/><rect x="158.60" y="383.60" width="58.70" height="1.80" fill="#2e3896"/><rect x="158.60" y="385.40" width="58.70" height="2.80" fill="#3d60ae"/><rect x="158.60" y="388.20" width="58.70" height="2.40" fill="#456fb8"/><rect x="158.60" y="390.60" width="58.70" height="4.40" fill="#33439f"/><rect x="158.60" y="395.00" width="58.70" height="5.20" fill="#33439f"/><rect x="158.60" y="400.20" width="58.70" height="4.00" fill="#3851a6"/><rect x="158.60" y="404.20" width="58.70" height="2.90" fill="#3d60ae"/><rect x="158.60" y="407.10" width="58.70" height="2.30" fill="#2e3896"/><rect x="158.60" y="409.40" width="58.70" height="1.70" fill="#6f9fd2"/><rect x="158.60" y="411.10" width="58.70" height="3.50" fill="#8bbfe2"/><rect x="158.60" y="414.60" width="58.70" height="4.00" fill="#2e3896"/><rect x="158.60" y="418.60" width="58.70" height="2.40" fill="#5584c4"/><rect x="158.60" y="421.00" width="58.70" height="2.30" fill="#2e3896"/><rect x="158.60" y="423.30" width="58.70" height="2.30" fill="#5584c4"/><rect x="158.60" y="425.60" width="58.70" height="2.80" fill="#33439f"/><rect x="158.60" y="428.40" width="58.70" height="5.20" fill="#3851a6"/><rect x="158.60" y="433.60" width="58.70" height="2.30" fill="#5584c4"/><rect x="158.60" y="435.90" width="58.70" height="2.90" fill="#3851a6"/><rect x="158.60" y="438.80" width="58.70" height="1.80" fill="#456fb8"/><rect x="158.60" y="440.60" width="58.70" height="2.80" fill="#2e3896"/><rect x="158.60" y="443.40" width="58.70" height="2.90" fill="#456fb8"/><rect x="158.60" y="446.30" width="58.70" height="2.30" fill="#5584c4"/><rect x="158.60" y="448.60" width="58.70" height="2.90" fill="#456fb8"/><rect x="158.60" y="451.50" width="58.70" height="2.90" fill="#fcdf95"/><rect x="158.60" y="454.40" width="58.70" height="2.90" fill="#fbc783"/><rect x="158.60" y="457.30" width="58.70" height="2.70" fill="#c82a2a"/><rect x="158.60" y="460.00" width="58.70" height="2.90" fill="#d8352a"/><rect x="158.60" y="462.90" width="58.70" height="2.30" fill="#f9f6f2"/><rect x="158.60" y="465.20" width="58.70" height="2.30" fill="#f06c43"/><rect x="158.60" y="467.50" width="58.70" height="2.30" fill="#f06c43"/><rect x="158.60" y="469.80" width="58.70" height="1.70" fill="#e44c32"/><rect x="158.60" y="471.50" width="58.70" height="3.50" fill="#fbc783"/><rect x="158.60" y="475.00" width="58.70" height="4.00" fill="#f9ac66"/><rect x="158.60" y="479.00" width="58.70" height="1.80" fill="#f06c43"/><rect x="158.60" y="480.80" width="58.70" height="4.00" fill="#f9f6f2"/><rect x="158.60" y="484.80" width="58.70" height="1.70" fill="#b21d2b"/><rect x="158.60" y="486.50" width="58.70" height="2.30" fill="#f9f6f2"/><rect x="158.60" y="488.80" width="58.70" height="1.80" fill="#f9ac66"/><rect x="158.60" y="490.60" width="58.70" height="2.80" fill="#f68d52"/><rect x="158.60" y="493.40" width="58.70" height="1.80" fill="#f06c43"/><rect x="158.60" y="495.20" width="58.70" height="4.60" fill="#fbf0c2"/><rect x="158.60" y="499.80" width="58.70" height="2.00" fill="#6f9fd2"/><rect x="158.60" y="501.80" width="58.70" height="2.00" fill="#fbf8d2"/><rect x="158.60" y="503.80" width="58.70" height="1.80" fill="#f9ac66"/><rect x="158.60" y="505.60" width="58.70" height="2.80" fill="#fbc783"/><rect x="158.60" y="508.40" width="58.70" height="2.30" fill="#b21d2b"/><rect x="158.60" y="510.70" width="58.70" height="2.40" fill="#fbf0c2"/><rect x="158.60" y="513.10" width="58.70" height="2.30" fill="#f9ac66"/><rect x="158.60" y="515.40" width="58.70" height="2.30" fill="#fbc783"/><rect x="158.60" y="517.70" width="58.70" height="2.30" fill="#f9ac66"/><rect x="158.60" y="520.00" width="58.70" height="3.50" fill="#f06c43"/><rect x="217.30" y="5.40" width="58.70" height="1.30" fill="#d9d9d9"/><rect x="217.30" y="6.70" width="58.70" height="1.80" fill="#456fb8"/><rect x="217.30" y="8.50" width="58.70" height="1.70" fill="#5584c4"/><rect x="217.30" y="10.20" width="58.70" height="1.70" fill="#456fb8"/><rect x="217.30" y="11.90" width="58.70" height="1.80" fill="#2e3896"/><rect x="217.30" y="13.70" width="58.70" height="1.10" fill="#5584c4"/><rect x="217.30" y="14.80" width="58.70" height="1.70" fill="#8bbfe2"/><rect x="217.30" y="16.50" width="58.70" height="1.80" fill="#456fb8"/><rect x="217.30" y="18.30" width="58.70" height="2.80" fill="#3d60ae"/><rect x="217.30" y="21.10" width="58.70" height="2.40" fill="#2e3896"/><rect x="217.30" y="23.50" width="58.70" height="4.60" fill="#3d60ae"/><rect x="217.30" y="28.10" width="58.70" height="1.70" fill="#2e3896"/><rect x="217.30" y="29.80" width="58.70" height="2.30" fill="#5584c4"/><rect x="217.30" y="32.10" width="58.70" height="1.70" fill="#3851a6"/><rect x="217.30" y="33.80" width="58.70" height="9.30" fill="#2e3896"/><rect x="217.30" y="43.10" width="58.70" height="1.70" fill="#456fb8"/><rect x="217.30" y="44.80" width="58.70" height="2.30" fill="#3851a6"/><rect x="217.30" y="47.10" width="58.70" height="2.30" fill="#2e3896"/><rect x="217.30" y="49.40" width="58.70" height="1.70" fill="#5584c4"/><rect x="217.30" y="51.10" width="58.70" height="4.60" fill="#33439f"/><rect x="217.30" y="55.70" width="58.70" height="2.40" fill="#f9f6f2"/><rect x="217.30" y="58.10" width="58.70" height="1.70" fill="#2e3896"/><rect x="217.30" y="59.80" width="58.70" height="2.30" fill="#456fb8"/><rect x="217.30" y="62.10" width="58.70" height="1.70" fill="#6f9fd2"/><rect x="217.30" y="63.80" width="58.70" height="1.80" fill="#5584c4"/><rect x="217.30" y="65.60" width="58.70" height="4.40" fill="#33439f"/><rect x="217.30" y="70.00" width="58.70" height="2.30" fill="#2e3896"/><rect x="217.30" y="72.30" width="58.70" height="5.80" fill="#3851a6"/><rect x="217.30" y="78.10" width="58.70" height="3.40" fill="#33439f"/><rect x="217.30" y="81.50" width="58.70" height="2.30" fill="#8bbfe2"/><rect x="217.30" y="83.80" width="58.70" height="2.30" fill="#3851a6"/><rect x="217.30" y="86.10" width="58.70" height="6.40" fill="#2e3896"/><rect x="217.30" y="92.50" width="58.70" height="2.30" fill="#8bbfe2"/><rect x="217.30" y="94.80" width="58.70" height="2.30" fill="#3851a6"/><rect x="217.30" y="97.10" width="58.70" height="4.00" fill="#2e3896"/><rect x="217.30" y="101.10" width="58.70" height="2.30" fill="#5584c4"/><rect x="217.30" y="103.40" width="58.70" height="1.80" fill="#2e3896"/><rect x="217.30" y="105.20" width="58.70" height="2.30" fill="#5584c4"/><rect x="217.30" y="107.50" width="58.70" height="2.30" fill="#2e3896"/><rect x="217.30" y="109.80" width="58.70" height="2.30" fill="#5584c4"/><rect x="217.30" y="112.10" width="58.70" height="3.50" fill="#3d60ae"/><rect x="217.30" y="115.60" width="58.70" height="3.40" fill="#33439f"/><rect x="217.30" y="119.00" width="58.70" height="2.30" fill="#eef7e8"/><rect x="217.30" y="121.30" width="58.70" height="1.80" fill="#6f9fd2"/><rect x="217.30" y="123.10" width="58.70" height="2.30" fill="#8bbfe2"/><rect x="217.30" y="125.40" width="58.70" height="2.30" fill="#3d60ae"/><rect x="217.30" y="127.70" width="58.70" height="2.30" fill="#3851a6"/><rect x="217.30" y="130.00" width="58.70" height="5.00" fill="#5584c4"/><rect x="217.30" y="135.00" width="58.70" height="2.10" fill="#8bbfe2"/><rect x="217.30" y="137.10" width="58.70" height="2.50" fill="#3d60ae"/><rect x="217.30" y="139.60" width="58.70" height="5.80" fill="#2e3896"/><rect x="217.30" y="145.40" width="58.70" height="5.70" fill="#3851a6"/><rect x="217.30" y="151.10" width="58.70" height="2.40" fill="#5584c4"/><rect x="217.30" y="153.50" width="58.70" height="6.30" fill="#2e3896"/><rect x="217.30" y="159.80" width="58.70" height="2.90" fill="#456fb8"/><rect x="217.30" y="162.70" width="58.70" height="5.70" fill="#33439f"/><rect x="217.30" y="168.40" width="58.70" height="4.70" fill="#3851a6"/><rect x="217.30" y="173.10" width="58.70" height="4.00" fill="#5584c4"/><rect x="217.30" y="177.10" width="58.70" height="2.30" fill="#2e3896"/><rect x="217.30" y="179.40" width="58.70" height="2.30" fill="#5584c4"/><rect x="217.30" y="181.70" width="58.70" height="4.00" fill="#33439f"/><rect x="217.30" y="185.70" width="58.70" height="1.80" fill="#456fb8"/><rect x="217.30" y="187.50" width="58.70" height="2.90" fill="#3851a6"/><rect x="217.30" y="190.40" width="58.70" height="2.30" fill="#5584c4"/><rect x="217.30" y="192.70" width="58.70" height="7.30" fill="#33439f"/><rect x="217.30" y="200.00" width="58.70" height="2.10" fill="#3851a6"/><rect x="217.30" y="202.10" width="58.70" height="2.50" fill="#a8d4ea"/><rect x="217.30" y="204.60" width="58.70" height="4.10" fill="#eef7e8"/><rect x="217.30" y="208.70" width="58.70" height="2.30" fill="#a8d4ea"/><rect x="217.30" y="211.00" width="58.70" height="2.80" fill="#dff0f6"/><rect x="217.30" y="213.80" width="58.70" height="5.80" fill="#c6e4f1"/><rect x="217.30" y="219.60" width="58.70" height="2.30" fill="#2e3896"/><rect x="217.30" y="221.90" width="58.70" height="2.30" fill="#dff0f6"/><rect x="217.30" y="224.20" width="58.70" height="2.30" fill="#a8d4ea"/><rect x="217.30" y="226.50" width="58.70" height="4.10" fill="#a8d4ea"/><rect x="217.30" y="230.60" width="58.70" height="2.80" fill="#5584c4"/><rect x="217.30" y="233.40" width="58.70" height="2.40" fill="#a8d4ea"/><rect x="217.30" y="235.80" width="58.70" height="2.30" fill="#c6e4f1"/><rect x="217.30" y="238.10" width="58.70" height="2.30" fill="#a8d4ea"/><rect x="217.30" y="240.40" width="58.70" height="3.40" fill="#c6e4f1"/><rect x="217.30" y="243.80" width="58.70" height="2.30" fill="#a8d4ea"/><rect x="217.30" y="246.10" width="58.70" height="2.30" fill="#8bbfe2"/><rect x="217.30" y="248.40" width="58.70" height="3.50" fill="#dff0f6"/><rect x="217.30" y="251.90" width="58.70" height="2.90" fill="#a8d4ea"/><rect x="217.30" y="254.80" width="58.70" height="2.90" fill="#a8d4ea"/><rect x="217.30" y="257.70" width="58.70" height="2.90" fill="#dff0f6"/><rect x="217.30" y="260.60" width="58.70" height="2.30" fill="#c6e4f1"/><rect x="217.30" y="262.90" width="58.70" height="2.10" fill="#a8d4ea"/><rect x="217.30" y="265.00" width="58.70" height="0.90" fill="#dff0f6"/><rect x="217.30" y="265.90" width="58.70" height="2.00" fill="#2e3896"/><rect x="217.30" y="267.90" width="58.70" height="2.30" fill="#fbc783"/><rect x="217.30" y="270.20" width="58.70" height="1.70" fill="#a8d4ea"/><rect x="217.30" y="271.90" width="58.70" height="2.30" fill="#2e3896"/><rect x="217.30" y="274.20" width="58.70" height="1.80" fill="#dff0f6"/><rect x="217.30" y="276.00" width="58.70" height="6.30" fill="#fbf8d2"/><rect x="217.30" y="282.30" width="58.70" height="1.70" fill="#a8d4ea"/><rect x="217.30" y="284.00" width="58.70" height="1.80" fill="#2e3896"/><rect x="217.30" y="285.80" width="58.70" height="2.30" fill="#6f9fd2"/><rect x="217.30" y="288.10" width="58.70" height="1.70" fill="#dff0f6"/><rect x="217.30" y="289.80" width="58.70" height="2.30" fill="#2e3896"/><rect x="217.30" y="292.10" width="58.70" height="1.70" fill="#dff0f6"/><rect x="217.30" y="293.80" width="58.70" height="2.90" fill="#fbf0c2"/><rect x="217.30" y="296.70" width="58.70" height="1.70" fill="#a8d4ea"/><rect x="217.30" y="298.40" width="58.70" height="4.70" fill="#33439f"/><rect x="217.30" y="303.10" width="58.70" height="2.30" fill="#456fb8"/><rect x="217.30" y="305.40" width="58.70" height="4.00" fill="#3d60ae"/><rect x="217.30" y="309.40" width="58.70" height="1.70" fill="#dff0f6"/><rect x="217.30" y="311.10" width="58.70" height="2.30" fill="#a8d4ea"/><rect x="217.30" y="313.40" width="58.70" height="2.40" fill="#6f9fd2"/><rect x="217.30" y="315.80" width="58.70" height="1.70" fill="#fbf8d2"/><rect x="217.30" y="317.50" width="58.70" height="1.70" fill="#2e3896"/><rect x="217.30" y="319.20" width="58.70" height="2.30" fill="#eef7e8"/><rect x="217.30" y="321.50" width="58.70" height="1.70" fill="#fcdf95"/><rect x="217.30" y="323.20" width="58.70" height="1.80" fill="#456fb8"/><rect x="217.30" y="325.00" width="58.70" height="2.90" fill="#3851a6"/><rect x="217.30" y="327.90" width="58.70" height="2.10" fill="#c8c4a6"/><rect x="217.30" y="330.00" width="58.70" height="1.20" fill="#6f9fd2"/><rect x="217.30" y="331.20" width="58.70" height="2.30" fill="#fbf8d2"/><rect x="217.30" y="333.50" width="58.70" height="1.70" fill="#456fb8"/><rect x="217.30" y="335.20" width="58.70" height="2.90" fill="#5584c4"/><rect x="217.30" y="338.10" width="58.70" height="1.70" fill="#3d60ae"/><rect x="217.30" y="339.80" width="58.70" height="4.00" fill="#456fb8"/><rect x="217.30" y="343.80" width="58.70" height="1.80" fill="#dff0f6"/><rect x="217.30" y="345.60" width="58.70" height="1.70" fill="#fbf8d2"/><rect x="217.30" y="347.30" width="58.70" height="1.70" fill="#a8d4ea"/><rect x="217.30" y="349.00" width="58.70" height="2.90" fill="#5584c4"/><rect x="217.30" y="351.90" width="58.70" height="1.70" fill="#a8d4ea"/><rect x="217.30" y="353.60" width="58.70" height="2.30" fill="#fbf0c2"/><rect x="217.30" y="355.90" width="58.70" height="1.80" fill="#fbf8d2"/><rect x="217.30" y="357.70" width="58.70" height="1.70" fill="#8bbfe2"/><rect x="217.30" y="359.40" width="58.70" height="1.20" fill="#456fb8"/><rect x="217.30" y="360.60" width="58.70" height="1.70" fill="#f06c43"/><rect x="217.30" y="362.30" width="58.70" height="1.10" fill="#456fb8"/><rect x="217.30" y="363.40" width="58.70" height="2.40" fill="#2e3896"/><rect x="217.30" y="365.80" width="58.70" height="2.30" fill="#3851a6"/><rect x="217.30" y="368.10" width="58.70" height="5.20" fill="#5584c4"/><rect x="217.30" y="373.30" width="58.70" height="1.70" fill="#3851a6"/><rect x="217.30" y="375.00" width="58.70" height="3.40" fill="#3d60ae"/><rect x="217.30" y="378.40" width="58.70" height="5.20" fill="#33439f"/><rect x="217.30" y="383.60" width="58.70" height="1.80" fill="#6f9fd2"/><rect x="217.30" y="385.40" width="58.70" height="2.80" fill="#5584c4"/><rect x="217.30" y="388.20" width="58.70" height="1.80" fill="#3851a6"/><rect x="217.30" y="390.00" width="58.70" height="2.30" fill="#dff0f6"/><rect x="217.30" y="392.30" width="58.70" height="2.70" fill="#5584c4"/><rect x="217.30" y="395.00" width="58.70" height="8.10" fill="#33439f"/><rect x="217.30" y="403.10" width="58.70" height="1.70" fill="#456fb8"/><rect x="217.30" y="404.80" width="58.70" height="3.50" fill="#5584c4"/><rect x="217.30" y="408.30" width="58.70" height="2.30" fill="#2e3896"/><rect x="217.30" y="410.60" width="58.70" height="1.70" fill="#5584c4"/><rect x="217.30" y="412.30" width="58.70" height="2.30" fill="#8bbfe2"/><rect x="217.30" y="414.60" width="58.70" height="4.00" fill="#2e3896"/><rect x="217.30" y="418.60" width="58.70" height="2.40" fill="#8bbfe2"/><rect x="217.30" y="421.00" width="58.70" height="2.30" fill="#2e3896"/><rect x="217.30" y="423.30" width="58.70" height="2.30" fill="#5584c4"/><rect x="217.30" y="425.60" width="58.70" height="4.00" fill="#456fb8"/><rect x="217.30" y="429.60" width="58.70" height="5.20" fill="#3d60ae"/><rect x="217.30" y="434.80" width="58.70" height="1.70" fill="#6f9fd2"/><rect x="217.30" y="436.50" width="58.70" height="2.30" fill="#3851a6"/><rect x="217.30" y="438.80" width="58.70" height="3.50" fill="#456fb8"/><rect x="217.30" y="442.30" width="58.70" height="4.00" fill="#c6e4f1"/><rect x="217.30" y="446.30" width="58.70" height="1.80" fill="#6f9fd2"/><rect x="217.30" y="448.10" width="58.70" height="2.30" fill="#456fb8"/><rect x="217.30" y="450.40" width="58.70" height="2.30" fill="#dff0f6"/><rect x="217.30" y="452.70" width="58.70" height="2.90" fill="#eef7e8"/><rect x="217.30" y="455.60" width="58.70" height="1.70" fill="#fbc783"/><rect x="217.30" y="457.30" width="58.70" height="2.70" fill="#f06c43"/><rect x="217.30" y="460.00" width="58.70" height="2.90" fill="#e44c32"/><rect x="217.30" y="462.90" width="58.70" height="2.30" fill="#f68d52"/><rect x="217.30" y="465.20" width="58.70" height="6.30" fill="#d8352a"/><rect x="217.30" y="471.50" width="58.70" height="2.30" fill="#f06c43"/><rect x="217.30" y="473.80" width="58.70" height="2.30" fill="#b21d2b"/><rect x="217.30" y="476.10" width="58.70" height="2.90" fill="#f68d52"/><rect x="217.30" y="479.00" width="58.70" height="4.10" fill="#fbc783"/><rect x="217.30" y="483.10" width="58.70" height="3.40" fill="#f06c43"/><rect x="217.30" y="486.50" width="58.70" height="2.30" fill="#f9ac66"/><rect x="217.30" y="488.80" width="58.70" height="2.10" fill="#e44c32"/><rect x="217.30" y="490.90" width="58.70" height="3.70" fill="#f9ac66"/><rect x="217.30" y="494.60" width="58.70" height="2.90" fill="#fbc783"/><rect x="217.30" y="497.50" width="58.70" height="2.30" fill="#fbf8d2"/><rect x="217.30" y="499.80" width="58.70" height="2.30" fill="#e44c32"/><rect x="217.30" y="502.10" width="58.70" height="2.30" fill="#f06c43"/><rect x="217.30" y="504.40" width="58.70" height="2.30" fill="#c6e4f1"/><rect x="217.30" y="506.70" width="58.70" height="2.30" fill="#fbf0c2"/><rect x="217.30" y="509.00" width="58.70" height="2.30" fill="#f9ac66"/><rect x="217.30" y="511.30" width="58.70" height="2.30" fill="#fcdf95"/><rect x="217.30" y="513.60" width="58.70" height="4.10" fill="#fbf0c2"/><rect x="217.30" y="517.70" width="58.70" height="2.30" fill="#eef7e8"/><rect x="217.30" y="520.00" width="58.70" height="1.70" fill="#8bbfe2"/><rect x="217.30" y="521.70" width="58.70" height="1.80" fill="#f9ac66"/><rect x="276.00" y="5.40" width="58.70" height="1.00" fill="#3851a6"/><rect x="276.00" y="6.40" width="58.70" height="3.80" fill="#2e3896"/><rect x="276.00" y="10.20" width="58.70" height="2.90" fill="#33439f"/><rect x="276.00" y="13.10" width="58.70" height="1.70" fill="#456fb8"/><rect x="276.00" y="14.80" width="58.70" height="2.90" fill="#6f9fd2"/><rect x="276.00" y="17.70" width="58.70" height="1.70" fill="#8bbfe2"/><rect x="276.00" y="19.40" width="58.70" height="1.50" fill="#a8d4ea"/><rect x="276.00" y="20.90" width="58.70" height="1.40" fill="#456fb8"/><rect x="276.00" y="22.30" width="58.70" height="2.30" fill="#5584c4"/><rect x="276.00" y="24.60" width="58.70" height="2.30" fill="#3851a6"/><rect x="276.00" y="26.90" width="58.70" height="4.60" fill="#3d60ae"/><rect x="276.00" y="31.50" width="58.70" height="2.30" fill="#2e3896"/><rect x="276.00" y="33.80" width="58.70" height="1.80" fill="#6f9fd2"/><rect x="276.00" y="35.60" width="58.70" height="2.30" fill="#eef0a8"/><rect x="276.00" y="37.90" width="58.70" height="1.70" fill="#8bbfe2"/><rect x="276.00" y="39.60" width="58.70" height="3.50" fill="#2e3896"/><rect x="276.00" y="43.10" width="58.70" height="1.70" fill="#5584c4"/><rect x="276.00" y="44.80" width="58.70" height="2.30" fill="#2e3896"/><rect x="276.00" y="47.10" width="58.70" height="2.30" fill="#5584c4"/><rect x="276.00" y="49.40" width="58.70" height="1.70" fill="#3851a6"/><rect x="276.00" y="51.10" width="58.70" height="8.10" fill="#2e3896"/><rect x="276.00" y="59.20" width="58.70" height="1.70" fill="#456fb8"/><rect x="276.00" y="60.90" width="58.70" height="2.90" fill="#6f9fd2"/><rect x="276.00" y="63.80" width="58.70" height="2.30" fill="#456fb8"/><rect x="276.00" y="66.10" width="58.70" height="3.90" fill="#3851a6"/><rect x="276.00" y="70.00" width="58.70" height="1.20" fill="#3851a6"/><rect x="276.00" y="71.20" width="58.70" height="2.00" fill="#8bbfe2"/><rect x="276.00" y="73.20" width="58.70" height="3.70" fill="#3851a6"/><rect x="276.00" y="76.90" width="58.70" height="2.30" fill="#8bbfe2"/><rect x="276.00" y="79.20" width="58.70" height="2.30" fill="#2e3896"/><rect x="276.00" y="81.50" width="58.70" height="4.60" fill="#3d60ae"/><rect x="276.00" y="86.10" width="58.70" height="2.10" fill="#8bbfe2"/><rect x="276.00" y="88.20" width="58.70" height="2.60" fill="#456fb8"/><rect x="276.00" y="90.80" width="58.70" height="2.30" fill="#5584c4"/><rect x="276.00" y="93.10" width="58.70" height="2.30" fill="#2e3896"/><rect x="276.00" y="95.40" width="58.70" height="2.30" fill="#a8d4ea"/><rect x="276.00" y="97.70" width="58.70" height="2.10" fill="#5584c4"/><rect x="276.00" y="99.80" width="58.70" height="2.50" fill="#8bbfe2"/><rect x="276.00" y="102.30" width="58.70" height="2.30" fill="#456fb8"/><rect x="276.00" y="104.60" width="58.70" height="13.80" fill="#2e3896"/><rect x="276.00" y="118.40" width="58.70" height="2.30" fill="#3851a6"/><rect x="276.00" y="120.70" width="58.70" height="3.50" fill="#3d60ae"/><rect x="276.00" y="124.20" width="58.70" height="2.30" fill="#5584c4"/><rect x="276.00" y="126.50" width="58.70" height="4.60" fill="#2e3896"/><rect x="276.00" y="131.10" width="58.70" height="3.90" fill="#5584c4"/><rect x="276.00" y="135.00" width="58.70" height="1.70" fill="#456fb8"/><rect x="276.00" y="136.70" width="58.70" height="2.30" fill="#3851a6"/><rect x="276.00" y="139.00" width="58.70" height="8.70" fill="#2e3896"/><rect x="276.00" y="147.70" width="58.70" height="1.70" fill="#6f9fd2"/><rect x="276.00" y="149.40" width="58.70" height="2.30" fill="#8bbfe2"/><rect x="276.00" y="151.70" width="58.70" height="4.60" fill="#33439f"/><rect x="276.00" y="156.30" width="58.70" height="1.80" fill="#5584c4"/><rect x="276.00" y="158.10" width="58.70" height="2.30" fill="#2e3896"/><rect x="276.00" y="160.40" width="58.70" height="2.90" fill="#8bbfe2"/><rect x="276.00" y="163.30" width="58.70" height="5.70" fill="#2e3896"/><rect x="276.00" y="169.00" width="58.70" height="3.50" fill="#5584c4"/><rect x="276.00" y="172.50" width="58.70" height="3.40" fill="#3851a6"/><rect x="276.00" y="175.90" width="58.70" height="1.80" fill="#456fb8"/><rect x="276.00" y="177.70" width="58.70" height="3.40" fill="#3851a6"/><rect x="276.00" y="181.10" width="58.70" height="2.30" fill="#456fb8"/><rect x="276.00" y="183.40" width="58.70" height="2.30" fill="#5584c4"/><rect x="276.00" y="185.70" width="58.70" height="1.80" fill="#456fb8"/><rect x="276.00" y="187.50" width="58.70" height="2.30" fill="#8bbfe2"/><rect x="276.00" y="189.80" width="58.70" height="2.30" fill="#6f9fd2"/><rect x="276.00" y="192.10" width="58.70" height="3.50" fill="#2e3896"/><rect x="276.00" y="195.60" width="58.70" height="2.30" fill="#3851a6"/><rect x="276.00" y="197.90" width="58.70" height="2.10" fill="#5584c4"/><rect x="276.00" y="200.00" width="58.70" height="1.70" fill="#456fb8"/><rect x="276.00" y="201.70" width="58.70" height="7.00" fill="#a8d4ea"/><rect x="276.00" y="208.70" width="58.70" height="2.30" fill="#456fb8"/><rect x="276.00" y="211.00" width="58.70" height="2.30" fill="#a8d4ea"/><rect x="276.00" y="213.30" width="58.70" height="4.00" fill="#8bbfe2"/><rect x="276.00" y="217.30" width="58.70" height="2.30" fill="#dff0f6"/><rect x="276.00" y="219.60" width="58.70" height="4.00" fill="#dff0f6"/><rect x="276.00" y="223.60" width="58.70" height="2.40" fill="#c6e4f1"/><rect x="276.00" y="226.00" width="58.70" height="2.30" fill="#a8d4ea"/><rect x="276.00" y="228.30" width="58.70" height="2.80" fill="#fbf0c2"/><rect x="276.00" y="231.10" width="58.70" height="1.80" fill="#a8d4ea"/><rect x="276.00" y="232.90" width="58.70" height="2.30" fill="#2e3896"/><rect x="276.00" y="235.20" width="58.70" height="1.70" fill="#dff0f6"/><rect x="276.00" y="236.90" width="58.70" height="4.00" fill="#dff0f6"/><rect x="276.00" y="240.90" width="58.70" height="2.90" fill="#fcdf95"/><rect x="276.00" y="243.80" width="58.70" height="1.80" fill="#dff0f6"/><rect x="276.00" y="245.60" width="58.70" height="2.30" fill="#456fb8"/><rect x="276.00" y="247.90" width="58.70" height="2.90" fill="#dff0f6"/><rect x="276.00" y="250.80" width="58.70" height="2.80" fill="#eef7e8"/><rect x="276.00" y="253.60" width="58.70" height="3.50" fill="#dff0f6"/><rect x="276.00" y="257.10" width="58.70" height="2.90" fill="#a8d4ea"/><rect x="276.00" y="260.00" width="58.70" height="2.90" fill="#fbf0c2"/><rect x="276.00" y="262.90" width="58.70" height="2.10" fill="#a8d4ea"/><rect x="276.00" y="265.00" width="58.70" height="1.40" fill="#a8d4ea"/><rect x="276.00" y="266.40" width="58.70" height="3.80" fill="#fbf0c2"/><rect x="276.00" y="270.20" width="58.70" height="2.90" fill="#eef7e8"/><rect x="276.00" y="273.10" width="58.70" height="2.90" fill="#dff0f6"/><rect x="276.00" y="276.00" width="58.70" height="2.30" fill="#c6e4f1"/><rect x="276.00" y="278.30" width="58.70" height="2.30" fill="#5584c4"/><rect x="276.00" y="280.60" width="58.70" height="2.30" fill="#dff0f6"/><rect x="276.00" y="282.90" width="58.70" height="2.30" fill="#c82a2a"/><rect x="276.00" y="285.20" width="58.70" height="1.70" fill="#a8d4ea"/><rect x="276.00" y="286.90" width="58.70" height="1.70" fill="#dff0f6"/><rect x="276.00" y="288.60" width="58.70" height="3.50" fill="#fcdf95"/><rect x="276.00" y="292.10" width="58.70" height="2.30" fill="#a8d4ea"/><rect x="276.00" y="294.40" width="58.70" height="1.70" fill="#456fb8"/><rect x="276.00" y="296.10" width="58.70" height="1.20" fill="#dff0f6"/><rect x="276.00" y="297.30" width="58.70" height="2.30" fill="#f68d52"/><rect x="276.00" y="299.60" width="58.70" height="2.90" fill="#f9ac66"/><rect x="276.00" y="302.50" width="58.70" height="1.70" fill="#dff0f6"/><rect x="276.00" y="304.20" width="58.70" height="1.70" fill="#3851a6"/><rect x="276.00" y="305.90" width="58.70" height="1.80" fill="#dff0f6"/><rect x="276.00" y="307.70" width="58.70" height="1.70" fill="#fbc783"/><rect x="276.00" y="309.40" width="58.70" height="1.70" fill="#fbf8d2"/><rect x="276.00" y="311.10" width="58.70" height="2.90" fill="#a8d4ea"/><rect x="276.00" y="314.00" width="58.70" height="1.80" fill="#dff0f6"/><rect x="276.00" y="315.80" width="58.70" height="2.30" fill="#b21d2b"/><rect x="276.00" y="318.10" width="58.70" height="1.70" fill="#fbf8d2"/><rect x="276.00" y="319.80" width="58.70" height="1.70" fill="#dff0f6"/><rect x="276.00" y="321.50" width="58.70" height="1.20" fill="#33439f"/><rect x="276.00" y="322.70" width="58.70" height="2.30" fill="#dff0f6"/><rect x="276.00" y="325.00" width="58.70" height="2.30" fill="#fbf0c2"/><rect x="276.00" y="327.30" width="58.70" height="2.70" fill="#a8d4ea"/><rect x="276.00" y="330.00" width="58.70" height="1.70" fill="#8bbfe2"/><rect x="276.00" y="331.70" width="58.70" height="2.30" fill="#dff0f6"/><rect x="276.00" y="334.00" width="58.70" height="1.80" fill="#8bbfe2"/><rect x="276.00" y="335.80" width="58.70" height="5.20" fill="#fbf0c2"/><rect x="276.00" y="341.00" width="58.70" height="2.80" fill="#fcdf95"/><rect x="276.00" y="343.80" width="58.70" height="2.90" fill="#eef7e8"/><rect x="276.00" y="346.70" width="58.70" height="2.90" fill="#c8c4a6"/><rect x="276.00" y="349.60" width="58.70" height="2.90" fill="#fbf0c2"/><rect x="276.00" y="352.50" width="58.70" height="2.30" fill="#fbf8d2"/><rect x="276.00" y="354.80" width="58.70" height="2.90" fill="#fbf0c2"/><rect x="276.00" y="357.70" width="58.70" height="2.30" fill="#fbf8d2"/><rect x="276.00" y="360.00" width="58.70" height="4.00" fill="#5584c4"/><rect x="276.00" y="364.00" width="58.70" height="2.30" fill="#b21d2b"/><rect x="276.00" y="366.30" width="58.70" height="1.80" fill="#f9ac66"/><rect x="276.00" y="368.10" width="58.70" height="2.80" fill="#c8c4a6"/><rect x="276.00" y="370.90" width="58.70" height="5.20" fill="#fcdf95"/><rect x="276.00" y="376.10" width="58.70" height="2.90" fill="#fbf8d2"/><rect x="276.00" y="379.00" width="58.70" height="1.70" fill="#3d60ae"/><rect x="276.00" y="380.70" width="58.70" height="1.80" fill="#dff0f6"/><rect x="276.00" y="382.50" width="58.70" height="1.70" fill="#fbf8d2"/><rect x="276.00" y="384.20" width="58.70" height="1.70" fill="#f68d52"/><rect x="276.00" y="385.90" width="58.70" height="4.10" fill="#e44c32"/><rect x="276.00" y="390.00" width="58.70" height="1.70" fill="#f9ac66"/><rect x="276.00" y="391.70" width="58.70" height="1.20" fill="#f9f6f2"/><rect x="276.00" y="392.90" width="58.70" height="2.10" fill="#b8707a"/><rect x="276.00" y="395.00" width="58.70" height="2.10" fill="#b8707a"/><rect x="276.00" y="397.10" width="58.70" height="1.90" fill="#b21d2b"/><rect x="276.00" y="399.00" width="58.70" height="2.30" fill="#f9f6f2"/><rect x="276.00" y="401.30" width="58.70" height="1.80" fill="#b21d2b"/><rect x="276.00" y="403.10" width="58.70" height="1.70" fill="#fbf8d2"/><rect x="276.00" y="404.80" width="58.70" height="4.00" fill="#eef7e8"/><rect x="276.00" y="408.80" width="58.70" height="2.90" fill="#fcdf95"/><rect x="276.00" y="411.70" width="58.70" height="2.90" fill="#fbf0c2"/><rect x="276.00" y="414.60" width="58.70" height="1.70" fill="#3d60ae"/><rect x="276.00" y="416.30" width="58.70" height="2.30" fill="#c6e4f1"/><rect x="276.00" y="418.60" width="58.70" height="2.90" fill="#fbc783"/><rect x="276.00" y="421.50" width="58.70" height="2.90" fill="#f9ac66"/><rect x="276.00" y="424.40" width="58.70" height="1.20" fill="#f06c43"/><rect x="276.00" y="425.60" width="58.70" height="1.70" fill="#b21d2b"/><rect x="276.00" y="427.30" width="58.70" height="2.30" fill="#fbf8d2"/><rect x="276.00" y="429.60" width="58.70" height="2.90" fill="#fbf0c2"/><rect x="276.00" y="432.50" width="58.70" height="1.70" fill="#f9ac66"/><rect x="276.00" y="434.20" width="58.70" height="1.80" fill="#f06c43"/><rect x="276.00" y="436.00" width="58.70" height="1.70" fill="#fbf8d2"/><rect x="276.00" y="437.70" width="58.70" height="2.90" fill="#eef7e8"/><rect x="276.00" y="440.60" width="58.70" height="1.70" fill="#fcdf95"/><rect x="276.00" y="442.30" width="58.70" height="2.90" fill="#eef7e8"/><rect x="276.00" y="445.20" width="58.70" height="1.70" fill="#fcdf95"/><rect x="276.00" y="446.90" width="58.70" height="2.30" fill="#f9ac66"/><rect x="276.00" y="449.20" width="58.70" height="2.30" fill="#fbf8d2"/><rect x="276.00" y="451.50" width="58.70" height="2.30" fill="#8bbfe2"/><rect x="276.00" y="453.80" width="58.70" height="4.10" fill="#456fb8"/><rect x="276.00" y="457.90" width="58.70" height="2.10" fill="#456fb8"/><rect x="276.00" y="460.00" width="58.70" height="5.80" fill="#2e3896"/><rect x="276.00" y="465.80" width="58.70" height="5.70" fill="#3851a6"/><rect x="276.00" y="471.50" width="58.70" height="1.80" fill="#a8d4ea"/><rect x="276.00" y="473.30" width="58.70" height="2.30" fill="#3d60ae"/><rect x="276.00" y="475.60" width="58.70" height="2.30" fill="#6f9fd2"/><rect x="276.00" y="477.90" width="58.70" height="2.30" fill="#a8d4ea"/><rect x="276.00" y="480.20" width="58.70" height="2.90" fill="#eef7e8"/><rect x="276.00" y="483.10" width="58.70" height="1.70" fill="#dff0f6"/><rect x="276.00" y="484.80" width="58.70" height="2.30" fill="#2e3896"/><rect x="276.00" y="487.10" width="58.70" height="1.70" fill="#dff0f6"/><rect x="276.00" y="488.80" width="58.70" height="2.30" fill="#6f9fd2"/><rect x="276.00" y="491.10" width="58.70" height="2.30" fill="#a8d4ea"/><rect x="276.00" y="493.40" width="58.70" height="1.80" fill="#6f9fd2"/><rect x="276.00" y="495.20" width="58.70" height="4.00" fill="#c6e4f1"/><rect x="276.00" y="499.20" width="58.70" height="2.90" fill="#2e3896"/><rect x="276.00" y="502.10" width="58.70" height="1.70" fill="#6f9fd2"/><rect x="276.00" y="503.80" width="58.70" height="2.30" fill="#5584c4"/><rect x="276.00" y="506.10" width="58.70" height="2.30" fill="#eef7e8"/><rect x="276.00" y="508.40" width="58.70" height="2.30" fill="#33439f"/><rect x="276.00" y="510.70" width="58.70" height="5.80" fill="#8bbfe2"/><rect x="276.00" y="516.50" width="58.70" height="3.50" fill="#5584c4"/><rect x="276.00" y="520.00" width="58.70" height="3.50" fill="#456fb8"/><rect x="334.70" y="5.40" width="58.70" height="1.30" fill="#d9d9d9"/><rect x="334.70" y="6.70" width="58.70" height="1.80" fill="#456fb8"/><rect x="334.70" y="8.50" width="58.70" height="2.30" fill="#2e3896"/><rect x="334.70" y="10.80" width="58.70" height="2.30" fill="#3d60ae"/><rect x="334.70" y="13.10" width="58.70" height="1.70" fill="#2e3896"/><rect x="334.70" y="14.80" width="58.70" height="2.30" fill="#5584c4"/><rect x="334.70" y="17.10" width="58.70" height="1.70" fill="#2e3896"/><rect x="334.70" y="18.80" width="58.70" height="2.30" fill="#5584c4"/><rect x="334.70" y="21.10" width="58.70" height="1.80" fill="#2e3896"/><rect x="334.70" y="22.90" width="58.70" height="2.30" fill="#8bbfe2"/><rect x="334.70" y="25.20" width="58.70" height="2.30" fill="#2e3896"/><rect x="334.70" y="27.50" width="58.70" height="1.70" fill="#c6e4f1"/><rect x="334.70" y="29.20" width="58.70" height="2.30" fill="#f9f6f2"/><rect x="334.70" y="31.50" width="58.70" height="1.80" fill="#2e3896"/><rect x="334.70" y="33.30" width="58.70" height="2.60" fill="#f9f6f2"/><rect x="334.70" y="35.90" width="58.70" height="2.00" fill="#456fb8"/><rect x="334.70" y="37.90" width="58.70" height="2.30" fill="#2e3896"/><rect x="334.70" y="40.20" width="58.70" height="2.30" fill="#f9f6f2"/><rect x="334.70" y="42.50" width="58.70" height="2.30" fill="#2e3896"/><rect x="334.70" y="44.80" width="58.70" height="4.00" fill="#3d60ae"/><rect x="334.70" y="48.80" width="58.70" height="4.60" fill="#5584c4"/><rect x="334.70" y="53.40" width="58.70" height="1.80" fill="#2e3896"/><rect x="334.70" y="55.20" width="58.70" height="2.90" fill="#f9f6f2"/><rect x="334.70" y="58.10" width="58.70" height="1.70" fill="#2e3896"/><rect x="334.70" y="59.80" width="58.70" height="2.90" fill="#5584c4"/><rect x="334.70" y="62.70" width="58.70" height="3.40" fill="#3d60ae"/><rect x="334.70" y="66.10" width="58.70" height="3.90" fill="#3851a6"/><rect x="334.70" y="70.00" width="58.70" height="7.50" fill="#2e3896"/><rect x="334.70" y="77.50" width="58.70" height="2.30" fill="#f9f6f2"/><rect x="334.70" y="79.80" width="58.70" height="1.70" fill="#2e3896"/><rect x="334.70" y="81.50" width="58.70" height="2.30" fill="#a8d4ea"/><rect x="334.70" y="83.80" width="58.70" height="1.80" fill="#456fb8"/><rect x="334.70" y="85.60" width="58.70" height="3.40" fill="#3d60ae"/><rect x="334.70" y="89.00" width="58.70" height="1.50" fill="#2e3896"/><rect x="334.70" y="90.50" width="58.70" height="2.30" fill="#f9f6f2"/><rect x="334.70" y="92.80" width="58.70" height="2.00" fill="#2e3896"/><rect x="334.70" y="94.80" width="58.70" height="2.30" fill="#5584c4"/><rect x="334.70" y="97.10" width="58.70" height="2.30" fill="#8bbfe2"/><rect x="334.70" y="99.40" width="58.70" height="2.30" fill="#f9f6f2"/><rect x="334.70" y="101.70" width="58.70" height="1.70" fill="#5584c4"/><rect x="334.70" y="103.40" width="58.70" height="15.00" fill="#2e3896"/><rect x="334.70" y="118.40" width="58.70" height="4.70" fill="#3851a6"/><rect x="334.70" y="123.10" width="58.70" height="2.80" fill="#5584c4"/><rect x="334.70" y="125.90" width="58.70" height="2.30" fill="#456fb8"/><rect x="334.70" y="128.20" width="58.70" height="2.90" fill="#2e3896"/><rect x="334.70" y="131.10" width="58.70" height="1.80" fill="#6f9fd2"/><rect x="334.70" y="132.90" width="58.70" height="2.10" fill="#8bbfe2"/><rect x="334.70" y="135.00" width="58.70" height="1.70" fill="#3d60ae"/><rect x="334.70" y="136.70" width="58.70" height="1.80" fill="#8bbfe2"/><rect x="334.70" y="138.50" width="58.70" height="10.90" fill="#2e3896"/><rect x="334.70" y="149.40" width="58.70" height="2.30" fill="#456fb8"/><rect x="334.70" y="151.70" width="58.70" height="4.60" fill="#33439f"/><rect x="334.70" y="156.30" width="58.70" height="1.80" fill="#5584c4"/><rect x="334.70" y="158.10" width="58.70" height="2.90" fill="#2e3896"/><rect x="334.70" y="161.00" width="58.70" height="2.30" fill="#8bbfe2"/><rect x="334.70" y="163.30" width="58.70" height="5.70" fill="#2e3896"/><rect x="334.70" y="169.00" width="58.70" height="5.20" fill="#3d60ae"/><rect x="334.70" y="174.20" width="58.70" height="2.30" fill="#2e3896"/><rect x="334.70" y="176.50" width="58.70" height="2.30" fill="#5584c4"/><rect x="334.70" y="178.80" width="58.70" height="1.80" fill="#2e3896"/><rect x="334.70" y="180.60" width="58.70" height="2.30" fill="#8bbfe2"/><rect x="334.70" y="182.90" width="58.70" height="3.40" fill="#3851a6"/><rect x="334.70" y="186.30" width="58.70" height="3.50" fill="#456fb8"/><rect x="334.70" y="189.80" width="58.70" height="2.90" fill="#2e3896"/><rect x="334.70" y="192.70" width="58.70" height="2.90" fill="#8bbfe2"/><rect x="334.70" y="195.60" width="58.70" height="2.30" fill="#456fb8"/><rect x="334.70" y="197.90" width="58.70" height="2.10" fill="#8bbfe2"/><rect x="334.70" y="200.00" width="58.70" height="1.70" fill="#456fb8"/><rect x="334.70" y="201.70" width="58.70" height="5.20" fill="#8bbfe2"/><rect x="334.70" y="206.90" width="58.70" height="1.80" fill="#456fb8"/><rect x="334.70" y="208.70" width="58.70" height="2.30" fill="#fbf0c2"/><rect x="334.70" y="211.00" width="58.70" height="1.70" fill="#c8c4a6"/><rect x="334.70" y="212.70" width="58.70" height="4.60" fill="#a8d4ea"/><rect x="334.70" y="217.30" width="58.70" height="4.00" fill="#c6e4f1"/><rect x="334.70" y="221.30" width="58.70" height="2.90" fill="#dff0f6"/><rect x="334.70" y="224.20" width="58.70" height="3.50" fill="#a8d4ea"/><rect x="334.70" y="227.70" width="58.70" height="6.90" fill="#fcdf95"/><rect x="334.70" y="234.60" width="58.70" height="2.30" fill="#fbf8d2"/><rect x="334.70" y="236.90" width="58.70" height="2.30" fill="#5584c4"/><rect x="334.70" y="239.20" width="58.70" height="2.90" fill="#a8d4ea"/><rect x="334.70" y="242.10" width="58.70" height="2.30" fill="#dff0f6"/><rect x="334.70" y="244.40" width="58.70" height="1.20" fill="#6f9fd2"/><rect x="334.70" y="245.60" width="58.70" height="2.80" fill="#eef7e8"/><rect x="334.70" y="248.40" width="58.70" height="2.90" fill="#dff0f6"/><rect x="334.70" y="251.30" width="58.70" height="2.30" fill="#a8d4ea"/><rect x="334.70" y="253.60" width="58.70" height="2.30" fill="#dff0f6"/><rect x="334.70" y="255.90" width="58.70" height="2.90" fill="#eef7e8"/><rect x="334.70" y="258.80" width="58.70" height="2.30" fill="#fbf0c2"/><rect x="334.70" y="261.10" width="58.70" height="1.80" fill="#dff0f6"/><rect x="334.70" y="262.90" width="58.70" height="2.10" fill="#a8d4ea"/><rect x="334.70" y="265.00" width="58.70" height="1.20" fill="#a8d4ea"/><rect x="334.70" y="266.20" width="58.70" height="1.70" fill="#dff0f6"/><rect x="334.70" y="267.90" width="58.70" height="2.30" fill="#456fb8"/><rect x="334.70" y="270.20" width="58.70" height="2.30" fill="#dff0f6"/><rect x="334.70" y="272.50" width="58.70" height="4.00" fill="#a8d4ea"/><rect x="334.70" y="276.50" width="58.70" height="5.80" fill="#eef7e8"/><rect x="334.70" y="282.30" width="58.70" height="1.20" fill="#dff0f6"/><rect x="334.70" y="283.50" width="58.70" height="2.00" fill="#2e3896"/><rect x="334.70" y="285.50" width="58.70" height="1.40" fill="#dff0f6"/><rect x="334.70" y="286.90" width="58.70" height="5.20" fill="#a8d4ea"/><rect x="334.70" y="292.10" width="58.70" height="2.30" fill="#fbf0c2"/><rect x="334.70" y="294.40" width="58.70" height="1.70" fill="#6f9fd2"/><rect x="334.70" y="296.10" width="58.70" height="3.50" fill="#eef7e8"/><rect x="334.70" y="299.60" width="58.70" height="4.00" fill="#fbf0c2"/><rect x="334.70" y="303.60" width="58.70" height="2.30" fill="#fbc783"/><rect x="334.70" y="305.90" width="58.70" height="1.80" fill="#6f9fd2"/><rect x="334.70" y="307.70" width="58.70" height="1.70" fill="#3d60ae"/><rect x="334.70" y="309.40" width="58.70" height="1.70" fill="#dff0f6"/><rect x="334.70" y="311.10" width="58.70" height="2.90" fill="#8bbfe2"/><rect x="334.70" y="314.00" width="58.70" height="1.80" fill="#6f9fd2"/><rect x="334.70" y="315.80" width="58.70" height="2.30" fill="#c6e4f1"/><rect x="334.70" y="318.10" width="58.70" height="2.00" fill="#fbf8d2"/><rect x="334.70" y="320.10" width="58.70" height="2.60" fill="#2e3896"/><rect x="334.70" y="322.70" width="58.70" height="1.10" fill="#dff0f6"/><rect x="334.70" y="323.80" width="58.70" height="2.90" fill="#fbf0c2"/><rect x="334.70" y="326.70" width="58.70" height="1.70" fill="#dff0f6"/><rect x="334.70" y="328.40" width="58.70" height="1.60" fill="#6f9fd2"/><rect x="334.70" y="330.00" width="58.70" height="2.90" fill="#eef7e8"/><rect x="334.70" y="332.90" width="58.70" height="2.90" fill="#8bbfe2"/><rect x="334.70" y="335.80" width="58.70" height="1.70" fill="#dff0f6"/><rect x="334.70" y="337.50" width="58.70" height="1.70" fill="#c6e4f1"/><rect x="334.70" y="339.20" width="58.70" height="3.50" fill="#eef7e8"/><rect x="334.70" y="342.70" width="58.70" height="8.10" fill="#dff0f6"/><rect x="334.70" y="350.80" width="58.70" height="1.70" fill="#a8d4ea"/><rect x="334.70" y="352.50" width="58.70" height="4.00" fill="#a8d4ea"/><rect x="334.70" y="356.50" width="58.70" height="3.50" fill="#eef7e8"/><rect x="334.70" y="360.00" width="58.70" height="1.70" fill="#5584c4"/><rect x="334.70" y="361.70" width="58.70" height="4.60" fill="#b21d2b"/><rect x="334.70" y="366.30" width="58.70" height="2.30" fill="#f06c43"/><rect x="334.70" y="368.60" width="58.70" height="4.10" fill="#f9ac66"/><rect x="334.70" y="372.70" width="58.70" height="1.70" fill="#f06c43"/><rect x="334.70" y="374.40" width="58.70" height="1.20" fill="#b21d2b"/><rect x="334.70" y="375.60" width="58.70" height="1.70" fill="#f68d52"/><rect x="334.70" y="377.30" width="58.70" height="4.00" fill="#b21d2b"/><rect x="334.70" y="381.30" width="58.70" height="2.30" fill="#f06c43"/><rect x="334.70" y="383.60" width="58.70" height="4.10" fill="#f68d52"/><rect x="334.70" y="387.70" width="58.70" height="1.10" fill="#d8352a"/><rect x="334.70" y="388.80" width="58.70" height="1.80" fill="#b21d2b"/><rect x="334.70" y="390.60" width="58.70" height="2.30" fill="#f9ac66"/><rect x="334.70" y="392.90" width="58.70" height="2.10" fill="#fbc783"/><rect x="334.70" y="395.00" width="58.70" height="1.70" fill="#f9ac66"/><rect x="334.70" y="396.70" width="58.70" height="4.10" fill="#fbf0c2"/><rect x="334.70" y="400.80" width="58.70" height="1.10" fill="#f9ac66"/><rect x="334.70" y="401.90" width="58.70" height="1.80" fill="#b21d2b"/><rect x="334.70" y="403.70" width="58.70" height="5.70" fill="#f06c43"/><rect x="334.70" y="409.40" width="58.70" height="2.30" fill="#e44c32"/><rect x="334.70" y="411.70" width="58.70" height="2.90" fill="#f9ac66"/><rect x="334.70" y="414.60" width="58.70" height="4.00" fill="#b21d2b"/><rect x="334.70" y="418.60" width="58.70" height="2.40" fill="#fbc783"/><rect x="334.70" y="421.00" width="58.70" height="2.30" fill="#b21d2b"/><rect x="334.70" y="423.30" width="58.70" height="2.30" fill="#fbc783"/><rect x="334.70" y="425.60" width="58.70" height="4.00" fill="#d8352a"/><rect x="334.70" y="429.60" width="58.70" height="3.50" fill="#f06c43"/><rect x="334.70" y="433.10" width="58.70" height="2.30" fill="#e44c32"/><rect x="334.70" y="435.40" width="58.70" height="1.70" fill="#f68d52"/><rect x="334.70" y="437.10" width="58.70" height="1.70" fill="#c82a2a"/><rect x="334.70" y="438.80" width="58.70" height="3.50" fill="#fbc783"/><rect x="334.70" y="442.30" width="58.70" height="4.00" fill="#fcdf95"/><rect x="334.70" y="446.30" width="58.70" height="2.30" fill="#fbf0c2"/><rect x="334.70" y="448.60" width="58.70" height="2.90" fill="#f9ac66"/><rect x="334.70" y="451.50" width="58.70" height="1.70" fill="#5584c4"/><rect x="334.70" y="453.20" width="58.70" height="2.90" fill="#6f9fd2"/><rect x="334.70" y="456.10" width="58.70" height="3.90" fill="#456fb8"/><rect x="334.70" y="460.00" width="58.70" height="6.30" fill="#33439f"/><rect x="334.70" y="466.30" width="58.70" height="2.40" fill="#456fb8"/><rect x="334.70" y="468.70" width="58.70" height="2.80" fill="#5584c4"/><rect x="334.70" y="471.50" width="58.70" height="1.80" fill="#c6e4f1"/><rect x="334.70" y="473.30" width="58.70" height="2.30" fill="#2e3896"/><rect x="334.70" y="475.60" width="58.70" height="2.90" fill="#8bbfe2"/><rect x="334.70" y="478.50" width="58.70" height="2.30" fill="#a8d4ea"/><rect x="334.70" y="480.80" width="58.70" height="2.30" fill="#eef7e8"/><rect x="334.70" y="483.10" width="58.70" height="1.70" fill="#a8d4ea"/><rect x="334.70" y="484.80" width="58.70" height="1.70" fill="#2e3896"/><rect x="334.70" y="486.50" width="58.70" height="2.30" fill="#8bbfe2"/><rect x="334.70" y="488.80" width="58.70" height="1.80" fill="#456fb8"/><rect x="334.70" y="490.60" width="58.70" height="2.80" fill="#c6e4f1"/><rect x="334.70" y="493.40" width="58.70" height="3.50" fill="#a8d4ea"/><rect x="334.70" y="496.90" width="58.70" height="2.90" fill="#fbf0c2"/><rect x="334.70" y="499.80" width="58.70" height="1.70" fill="#2e3896"/><rect x="334.70" y="501.50" width="58.70" height="2.30" fill="#6f9fd2"/><rect x="334.70" y="503.80" width="58.70" height="1.80" fill="#a8d4ea"/><rect x="334.70" y="505.60" width="58.70" height="2.80" fill="#fbf8d2"/><rect x="334.70" y="508.40" width="58.70" height="2.30" fill="#33439f"/><rect x="334.70" y="510.70" width="58.70" height="3.50" fill="#6f9fd2"/><rect x="334.70" y="514.20" width="58.70" height="2.30" fill="#a8d4ea"/><rect x="334.70" y="516.50" width="58.70" height="1.70" fill="#dff0f6"/><rect x="334.70" y="518.20" width="58.70" height="1.80" fill="#a8d4ea"/><rect x="334.70" y="520.00" width="58.70" height="3.50" fill="#fbf8d2"/><rect x="393.2" y="5.4" width="29.5" height="197.20" fill="#4f7e3a"/><rect x="393.2" y="202.6" width="29.5" height="158.60" fill="#d8c958"/><rect x="393.2" y="361.2" width="29.5" height="91.00" fill="#6aa98b"/><rect x="393.2" y="452.2" width="29.5" height="71.30" fill="#6a5392"/></g>
<g shape-rendering="auto"><line x1="35.8" y1="87.5" x2="41.2" y2="87.5" stroke="#111" stroke-width="1.1"/><line x1="35.8" y1="196.8" x2="41.2" y2="196.8" stroke="#111" stroke-width="1.1"/><line x1="35.8" y1="306.3" x2="41.2" y2="306.3" stroke="#111" stroke-width="1.1"/><line x1="35.8" y1="415.5" x2="41.2" y2="415.5" stroke="#111" stroke-width="1.1"/><line x1="35.8" y1="524.6" x2="41.2" y2="524.6" stroke="#111" stroke-width="1.1"/><line x1="70.1" y1="523.5" x2="70.1" y2="529.4" stroke="#111" stroke-width="1.1"/><line x1="129.0" y1="523.5" x2="129.0" y2="529.4" stroke="#111" stroke-width="1.1"/><line x1="187.7" y1="523.5" x2="187.7" y2="529.4" stroke="#111" stroke-width="1.1"/><line x1="246.3" y1="523.5" x2="246.3" y2="529.4" stroke="#111" stroke-width="1.1"/><line x1="305.5" y1="523.5" x2="305.5" y2="529.4" stroke="#111" stroke-width="1.1"/><line x1="364.0" y1="523.5" x2="364.0" y2="529.4" stroke="#111" stroke-width="1.1"/><line x1="422.6" y1="523.5" x2="422.6" y2="529.4" stroke="#111" stroke-width="1.1"/></g>
<rect x="469.1" y="219.7" width="19.6" height="103.6" fill="url(#lg)"/><line x1="469.1" y1="221.8" x2="472.5" y2="221.8" stroke="#fff" stroke-width="0.9" opacity="0.55"/><line x1="485.3" y1="221.8" x2="488.7" y2="221.8" stroke="#fff" stroke-width="0.9" opacity="0.55"/><line x1="469.1" y1="246.7" x2="472.5" y2="246.7" stroke="#fff" stroke-width="0.9" opacity="0.55"/><line x1="485.3" y1="246.7" x2="488.7" y2="246.7" stroke="#fff" stroke-width="0.9" opacity="0.55"/><line x1="469.1" y1="271.6" x2="472.5" y2="271.6" stroke="#fff" stroke-width="0.9" opacity="0.55"/><line x1="485.3" y1="271.6" x2="488.7" y2="271.6" stroke="#fff" stroke-width="0.9" opacity="0.55"/><line x1="469.1" y1="296.5" x2="472.5" y2="296.5" stroke="#fff" stroke-width="0.9" opacity="0.55"/><line x1="485.3" y1="296.5" x2="488.7" y2="296.5" stroke="#fff" stroke-width="0.9" opacity="0.55"/><line x1="469.1" y1="321.4" x2="472.5" y2="321.4" stroke="#fff" stroke-width="0.9" opacity="0.55"/><line x1="485.3" y1="321.4" x2="488.7" y2="321.4" stroke="#fff" stroke-width="0.9" opacity="0.55"/>
</svg>
<div class="t yl" style="top:-0.5px">350</div><div class="t yl" style="top:71.5px">300</div><div class="t yl" style="top:147.2px">250</div><div class="t yl" style="top:216.0px">200</div><div class="t yl" style="top:294.1px">150</div><div class="t yl" style="top:367.2px">100</div><div class="t yl" style="top:440.7px">50</div><div class="t yl" style="top:514.5px">0</div><div class="t xl" style="left:51.1px">12</div><div class="t xl" style="left:108.7px">18</div><div class="t xl" style="left:171.5px">12</div><div class="t xl" style="left:228.5px">18</div><div class="t xl" style="left:284.4px">12</div><div class="t xl" style="left:341.7px">18</div><div class="t gl" style="left:29.8px;letter-spacing:0.5px">Granulocytes</div><div class="t gl" style="left:148.8px;letter-spacing:-0.1px">T cells</div><div class="t gl" style="left:263.4px;letter-spacing:0.0px">B cells</div><div class="t lt" style="left:428.2px;top:135.4px;letter-spacing:0.1px">Relative</div><div class="t lt" style="left:427.9px;top:154.6px;letter-spacing:0.7px">contribution</div><div class="t lt" style="left:426.4px;top:173.8px;letter-spacing:0.4px">to one</div><div class="t lt" style="left:428.0px;top:192.5px;letter-spacing:0.45px">lineage</div><div class="t ll" style="top:216.8px">1.00</div><div class="t ll" style="top:241.8px">0.75</div><div class="t ll" style="top:266.7px">0.50</div><div class="t ll" style="top:291.6px">0.25</div><div class="t ll" style="top:316.6px">0.00</div>
</body></html>
